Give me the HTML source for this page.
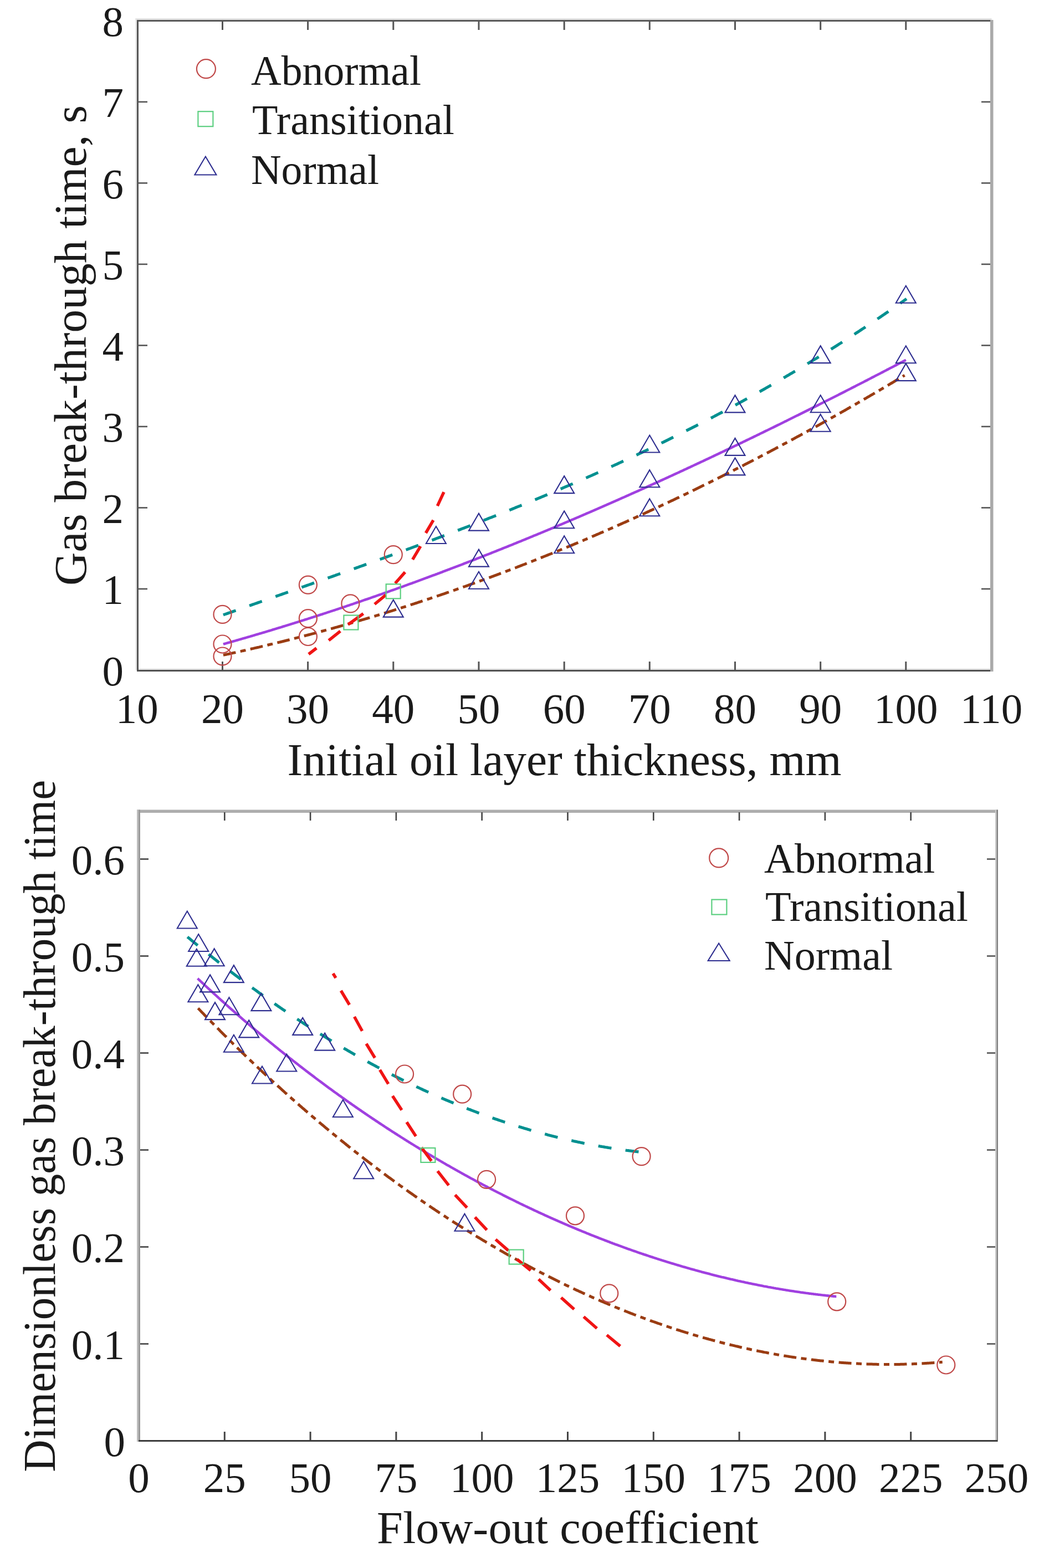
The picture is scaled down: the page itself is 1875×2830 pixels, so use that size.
<!DOCTYPE html>
<html><head><meta charset="utf-8"><title>Gas break-through time charts</title>
<style>
html,body{margin:0;padding:0;background:#fff;overflow:hidden;}
svg{display:block;}
text{font-family:'Liberation Serif', serif;fill:#1a1a1a;font-variant-ligatures:none;font-feature-settings:"liga" 0;}
</style></head><body>
<svg width="1875" height="2830" viewBox="0 0 1875 2830">
<rect width="1875" height="2830" fill="#fff"/>
<rect x="244.5" y="33" width="1545.0" height="3" fill="#e2e2e2"/>
<rect x="244.5" y="33" width="3" height="1176.4" fill="#e2e2e2"/>
<rect x="247" y="1206.5" width="1542.5" height="3" fill="#e2e2e2"/>
<rect x="247" y="36" width="1542.5" height="3" fill="#585858"/>
<rect x="247" y="36" width="3" height="1176" fill="#555"/>
<rect x="247" y="1209" width="1543" height="3" fill="#505050"/>
<rect x="1787" y="36" width="5.5" height="1176" fill="#aaaaaa"/>
<rect x="400.0" y="1194" width="3" height="15" fill="#555"/>
<rect x="400.0" y="39" width="3" height="15" fill="#555"/>
<rect x="554.1" y="1194" width="3" height="15" fill="#555"/>
<rect x="554.1" y="39" width="3" height="15" fill="#555"/>
<rect x="708.3" y="1194" width="3" height="15" fill="#555"/>
<rect x="708.3" y="39" width="3" height="15" fill="#555"/>
<rect x="862.5" y="1194" width="3" height="15" fill="#555"/>
<rect x="862.5" y="39" width="3" height="15" fill="#555"/>
<rect x="1016.7" y="1194" width="3" height="15" fill="#555"/>
<rect x="1016.7" y="39" width="3" height="15" fill="#555"/>
<rect x="1170.8" y="1194" width="3" height="15" fill="#555"/>
<rect x="1170.8" y="39" width="3" height="15" fill="#555"/>
<rect x="1325.0" y="1194" width="3" height="15" fill="#555"/>
<rect x="1325.0" y="39" width="3" height="15" fill="#555"/>
<rect x="1479.2" y="1194" width="3" height="15" fill="#555"/>
<rect x="1479.2" y="39" width="3" height="15" fill="#555"/>
<rect x="1633.3" y="1194" width="3" height="15" fill="#555"/>
<rect x="1633.3" y="39" width="3" height="15" fill="#555"/>
<rect x="250" y="1061.6" width="16" height="2.6" fill="#555"/>
<rect x="1771" y="1061.6" width="16" height="2.6" fill="#555"/>
<rect x="250" y="915.1" width="16" height="2.6" fill="#555"/>
<rect x="1771" y="915.1" width="16" height="2.6" fill="#555"/>
<rect x="250" y="768.6" width="16" height="2.6" fill="#555"/>
<rect x="1771" y="768.6" width="16" height="2.6" fill="#555"/>
<rect x="250" y="622.1" width="16" height="2.6" fill="#555"/>
<rect x="1771" y="622.1" width="16" height="2.6" fill="#555"/>
<rect x="250" y="475.6" width="16" height="2.6" fill="#555"/>
<rect x="1771" y="475.6" width="16" height="2.6" fill="#555"/>
<rect x="250" y="329.1" width="16" height="2.6" fill="#555"/>
<rect x="1771" y="329.1" width="16" height="2.6" fill="#555"/>
<rect x="250" y="182.6" width="16" height="2.6" fill="#555"/>
<rect x="1771" y="182.6" width="16" height="2.6" fill="#555"/>
<text x="247.3" y="1305" font-size="77" text-anchor="middle" >10</text>
<text x="401.5" y="1305" font-size="77" text-anchor="middle" >20</text>
<text x="555.6" y="1305" font-size="77" text-anchor="middle" >30</text>
<text x="709.8" y="1305" font-size="77" text-anchor="middle" >40</text>
<text x="864.0" y="1305" font-size="77" text-anchor="middle" >50</text>
<text x="1018.2" y="1305" font-size="77" text-anchor="middle" >60</text>
<text x="1172.3" y="1305" font-size="77" text-anchor="middle" >70</text>
<text x="1326.5" y="1305" font-size="77" text-anchor="middle" >80</text>
<text x="1480.7" y="1305" font-size="77" text-anchor="middle" >90</text>
<text x="1634.8" y="1305" font-size="77" text-anchor="middle" >100</text>
<text x="1789.0" y="1305" font-size="77" text-anchor="middle" >110</text>
<text x="223" y="1236.7" font-size="77" text-anchor="end" >0</text>
<text x="223" y="1090.2" font-size="77" text-anchor="end" >1</text>
<text x="223" y="943.7" font-size="77" text-anchor="end" >2</text>
<text x="223" y="797.2" font-size="77" text-anchor="end" >3</text>
<text x="223" y="650.7" font-size="77" text-anchor="end" >4</text>
<text x="223" y="504.2" font-size="77" text-anchor="end" >5</text>
<text x="223" y="357.7" font-size="77" text-anchor="end" >6</text>
<text x="223" y="211.2" font-size="77" text-anchor="end" >7</text>
<text x="223" y="64.7" font-size="77" text-anchor="end" >8</text>
<text x="1018.5" y="1399" font-size="83" text-anchor="middle" textLength="1000" lengthAdjust="spacingAndGlyphs">Initial oil layer thickness, mm</text>
<text transform="translate(155,623.6) rotate(-90)" x="0" y="0" font-size="83" text-anchor="middle" textLength="867" lengthAdjust="spacingAndGlyphs">Gas break-through time, s</text>
<circle cx="371.9" cy="124.2" r="17" fill="none" stroke="#c04848" stroke-width="2.2"/>
<rect x="357.4" y="201.2" width="27" height="27" fill="none" stroke="#5ccf80" stroke-width="2.2"/>
<path d="M370.9,282.5 L390.4,315.5 L351.4,315.5 Z" fill="none" stroke="#2e2e90" stroke-width="2.1" stroke-linejoin="miter"/>
<text x="453" y="153" font-size="77" text-anchor="start" textLength="307" lengthAdjust="spacingAndGlyphs">Abnormal</text>
<text x="455" y="242.4" font-size="77" text-anchor="start" textLength="365" lengthAdjust="spacingAndGlyphs">Transitional</text>
<text x="453" y="331.8" font-size="77" text-anchor="start" textLength="231" lengthAdjust="spacingAndGlyphs">Normal</text>
<path d="M402.9,1109.8 L404.9,1109.1 L406.9,1108.4 L408.9,1107.7 L410.9,1107.0 L412.9,1106.3 L414.9,1105.6 L416.9,1104.9 L418.9,1104.2 L420.9,1103.5 L422.9,1102.8 L424.9,1102.1 L426.9,1101.4 L428.9,1100.7 L430.9,1100.0 L432.9,1099.2 L434.9,1098.5 L436.9,1097.8 L438.9,1097.1 L440.9,1096.4 L442.9,1095.7 L444.9,1095.0 L446.9,1094.3 L448.9,1093.6 L450.9,1092.9 L452.9,1092.2 L454.9,1091.5 L456.9,1090.8 L458.9,1090.1 L460.9,1089.4 L462.9,1088.7 L464.9,1088.0 L466.9,1087.3 L468.9,1086.6 L470.9,1085.9 L472.9,1085.2 L474.9,1084.5 L476.9,1083.8 L478.9,1083.1 L480.9,1082.3 L482.9,1081.6 L484.9,1080.9 L486.9,1080.2 L488.9,1079.5 L490.9,1078.8 L492.9,1078.1 L494.9,1077.4 L496.9,1076.7 L498.9,1076.0 L500.9,1075.3 L502.9,1074.6 L504.9,1073.9 L506.9,1073.2 L508.9,1072.5 L510.9,1071.8 L512.9,1071.1 L514.9,1070.4 L516.9,1069.7 L518.9,1069.0 L520.9,1068.3 L522.9,1067.6 L524.9,1066.9 L526.9,1066.2 L528.9,1065.5 L530.9,1064.7 L532.9,1064.0 L534.9,1063.3 L536.9,1062.6 L538.9,1061.9 L540.9,1061.2 L542.9,1060.5 L544.9,1059.8 L546.9,1059.1 L548.9,1058.4 L550.9,1057.7 L552.9,1057.0 L554.9,1056.3 L556.9,1055.6 L558.9,1054.9 L560.9,1054.2 L562.9,1053.5 L564.9,1052.7 L566.9,1052.0 L568.9,1051.3 L570.9,1050.6 L572.9,1049.9 L574.9,1049.2 L576.9,1048.5 L578.9,1047.8 L580.9,1047.1 L582.9,1046.4 L584.9,1045.7 L586.9,1045.0 L588.9,1044.2 L590.9,1043.5 L592.9,1042.8 L594.9,1042.1 L596.9,1041.4 L598.9,1040.7 L600.9,1040.0 L602.9,1039.3 L604.9,1038.6 L606.9,1037.8 L608.9,1037.1 L610.9,1036.4 L612.9,1035.7 L614.9,1035.0 L616.9,1034.3 L618.9,1033.6 L620.9,1032.9 L622.9,1032.1 L624.9,1031.4 L626.9,1030.7 L628.9,1030.0 L630.9,1029.3 L632.9,1028.6 L634.9,1027.9 L636.9,1027.1 L638.9,1026.4 L640.9,1025.7 L642.9,1025.0 L644.9,1024.3 L646.9,1023.6 L648.9,1022.8 L650.9,1022.1 L652.9,1021.4 L654.9,1020.7 L656.9,1020.0 L658.9,1019.2 L660.9,1018.5 L662.9,1017.8 L664.9,1017.1 L666.9,1016.4 L668.9,1015.6 L670.9,1014.9 L672.9,1014.2 L674.9,1013.5 L676.9,1012.7 L678.9,1012.0 L680.9,1011.3 L682.9,1010.6 L684.9,1009.8 L686.9,1009.1 L688.9,1008.4 L690.9,1007.7 L692.9,1006.9 L694.9,1006.2 L696.9,1005.5 L698.9,1004.8 L700.9,1004.0 L702.9,1003.3 L704.9,1002.6 L706.9,1001.8 L708.9,1001.1 L710.9,1000.4 L712.9,999.6 L714.9,998.9 L716.9,998.2 L718.9,997.5 L720.9,996.7 L722.9,996.0 L724.9,995.2 L726.9,994.5 L728.9,993.8 L730.9,993.0 L732.9,992.3 L734.9,991.6 L736.9,990.8 L738.9,990.1 L740.9,989.4 L742.9,988.6 L744.9,987.9 L746.9,987.1 L748.9,986.4 L750.9,985.7 L752.9,984.9 L754.9,984.2 L756.9,983.4 L758.9,982.7 L760.9,981.9 L762.9,981.2 L764.9,980.4 L766.9,979.7 L768.9,979.0 L770.9,978.2 L772.9,977.5 L774.9,976.7 L776.9,976.0 L778.9,975.2 L780.9,974.5 L782.9,973.7 L784.9,973.0 L786.9,972.2 L788.9,971.4 L790.9,970.7 L792.9,969.9 L794.9,969.2 L796.9,968.4 L798.9,967.7 L800.9,966.9 L802.9,966.2 L804.9,965.4 L806.9,964.6 L808.9,963.9 L810.9,963.1 L812.9,962.4 L814.9,961.6 L816.9,960.8 L818.9,960.1 L820.9,959.3 L822.9,958.5 L824.9,957.8 L826.9,957.0 L828.9,956.2 L830.9,955.5 L832.9,954.7 L834.9,953.9 L836.9,953.2 L838.9,952.4 L840.9,951.6 L842.9,950.9 L844.9,950.1 L846.9,949.3 L848.9,948.5 L850.9,947.8 L852.9,947.0 L854.9,946.2 L856.9,945.4 L858.9,944.6 L860.9,943.9 L862.9,943.1 L864.9,942.3 L866.9,941.5 L868.9,940.7 L870.9,940.0 L872.9,939.2 L874.9,938.4 L876.9,937.6 L878.9,936.8 L880.9,936.0 L882.9,935.2 L884.9,934.4 L886.9,933.7 L888.9,932.9 L890.9,932.1 L892.9,931.3 L894.9,930.5 L896.9,929.7 L898.9,928.9 L900.9,928.1 L902.9,927.3 L904.9,926.5 L906.9,925.7 L908.9,924.9 L910.9,924.1 L912.9,923.3 L914.9,922.5 L916.9,921.7 L918.9,920.9 L920.9,920.1 L922.9,919.3 L924.9,918.5 L926.9,917.7 L928.9,916.9 L930.9,916.0 L932.9,915.2 L934.9,914.4 L936.9,913.6 L938.9,912.8 L940.9,912.0 L942.9,911.2 L944.9,910.3 L946.9,909.5 L948.9,908.7 L950.9,907.9 L952.9,907.1 L954.9,906.2 L956.9,905.4 L958.9,904.6 L960.9,903.8 L962.9,902.9 L964.9,902.1 L966.9,901.3 L968.9,900.5 L970.9,899.6 L972.9,898.8 L974.9,898.0 L976.9,897.1 L978.9,896.3 L980.9,895.5 L982.9,894.6 L984.9,893.8 L986.9,893.0 L988.9,892.1 L990.9,891.3 L992.9,890.4 L994.9,889.6 L996.9,888.7 L998.9,887.9 L1000.9,887.1 L1002.9,886.2 L1004.9,885.4 L1006.9,884.5 L1008.9,883.7 L1010.9,882.8 L1012.9,882.0 L1014.9,881.1 L1016.9,880.2 L1018.9,879.4 L1020.9,878.5 L1022.9,877.7 L1024.9,876.8 L1026.9,875.9 L1028.9,875.1 L1030.9,874.2 L1032.9,873.4 L1034.9,872.5 L1036.9,871.6 L1038.9,870.8 L1040.9,869.9 L1042.9,869.0 L1044.9,868.1 L1046.9,867.3 L1048.9,866.4 L1050.9,865.5 L1052.9,864.6 L1054.9,863.8 L1056.9,862.9 L1058.9,862.0 L1060.9,861.1 L1062.9,860.2 L1064.9,859.4 L1066.9,858.5 L1068.9,857.6 L1070.9,856.7 L1072.9,855.8 L1074.9,854.9 L1076.9,854.0 L1078.9,853.1 L1080.9,852.2 L1082.9,851.3 L1084.9,850.5 L1086.9,849.6 L1088.9,848.7 L1090.9,847.8 L1092.9,846.9 L1094.9,845.9 L1096.9,845.0 L1098.9,844.1 L1100.9,843.2 L1102.9,842.3 L1104.9,841.4 L1106.9,840.5 L1108.9,839.6 L1110.9,838.7 L1112.9,837.8 L1114.9,836.8 L1116.9,835.9 L1118.9,835.0 L1120.9,834.1 L1122.9,833.2 L1124.9,832.2 L1126.9,831.3 L1128.9,830.4 L1130.9,829.5 L1132.9,828.5 L1134.9,827.6 L1136.9,826.7 L1138.9,825.7 L1140.9,824.8 L1142.9,823.9 L1144.9,822.9 L1146.9,822.0 L1148.9,821.1 L1150.9,820.1 L1152.9,819.2 L1154.9,818.2 L1156.9,817.3 L1158.9,816.3 L1160.9,815.4 L1162.9,814.4 L1164.9,813.5 L1166.9,812.5 L1168.9,811.6 L1170.9,810.6 L1172.9,809.7 L1174.9,808.7 L1176.9,807.7 L1178.9,806.8 L1180.9,805.8 L1182.9,804.9 L1184.9,803.9 L1186.9,802.9 L1188.9,802.0 L1190.9,801.0 L1192.9,800.0 L1194.9,799.0 L1196.9,798.1 L1198.9,797.1 L1200.9,796.1 L1202.9,795.1 L1204.9,794.1 L1206.9,793.2 L1208.9,792.2 L1210.9,791.2 L1212.9,790.2 L1214.9,789.2 L1216.9,788.2 L1218.9,787.2 L1220.9,786.2 L1222.9,785.2 L1224.9,784.2 L1226.9,783.2 L1228.9,782.2 L1230.9,781.2 L1232.9,780.2 L1234.9,779.2 L1236.9,778.2 L1238.9,777.2 L1240.9,776.2 L1242.9,775.2 L1244.9,774.2 L1246.9,773.2 L1248.9,772.1 L1250.9,771.1 L1252.9,770.1 L1254.9,769.1 L1256.9,768.1 L1258.9,767.0 L1260.9,766.0 L1262.9,765.0 L1264.9,764.0 L1266.9,762.9 L1268.9,761.9 L1270.9,760.9 L1272.9,759.8 L1274.9,758.8 L1276.9,757.7 L1278.9,756.7 L1280.9,755.7 L1282.9,754.6 L1284.9,753.6 L1286.9,752.5 L1288.9,751.5 L1290.9,750.4 L1292.9,749.4 L1294.9,748.3 L1296.9,747.2 L1298.9,746.2 L1300.9,745.1 L1302.9,744.1 L1304.9,743.0 L1306.9,741.9 L1308.9,740.9 L1310.9,739.8 L1312.9,738.7 L1314.9,737.7 L1316.9,736.6 L1318.9,735.5 L1320.9,734.4 L1322.9,733.3 L1324.9,732.3 L1326.9,731.2 L1328.9,730.1 L1330.9,729.0 L1332.9,727.9 L1334.9,726.8 L1336.9,725.7 L1338.9,724.6 L1340.9,723.5 L1342.9,722.4 L1344.9,721.3 L1346.9,720.2 L1348.9,719.1 L1350.9,718.0 L1352.9,716.9 L1354.9,715.8 L1356.9,714.7 L1358.9,713.6 L1360.9,712.5 L1362.9,711.4 L1364.9,710.2 L1366.9,709.1 L1368.9,708.0 L1370.9,706.9 L1372.9,705.7 L1374.9,704.6 L1376.9,703.5 L1378.9,702.4 L1380.9,701.2 L1382.9,700.1 L1384.9,698.9 L1386.9,697.8 L1388.9,696.7 L1390.9,695.5 L1392.9,694.4 L1394.9,693.2 L1396.9,692.1 L1398.9,690.9 L1400.9,689.8 L1402.9,688.6 L1404.9,687.5 L1406.9,686.3 L1408.9,685.1 L1410.9,684.0 L1412.9,682.8 L1414.9,681.6 L1416.9,680.5 L1418.9,679.3 L1420.9,678.1 L1422.9,677.0 L1424.9,675.8 L1426.9,674.6 L1428.9,673.4 L1430.9,672.2 L1432.9,671.0 L1434.9,669.9 L1436.9,668.7 L1438.9,667.5 L1440.9,666.3 L1442.9,665.1 L1444.9,663.9 L1446.9,662.7 L1448.9,661.5 L1450.9,660.3 L1452.9,659.1 L1454.9,657.9 L1456.9,656.7 L1458.9,655.4 L1460.9,654.2 L1462.9,653.0 L1464.9,651.8 L1466.9,650.6 L1468.9,649.4 L1470.9,648.1 L1472.9,646.9 L1474.9,645.7 L1476.9,644.4 L1478.9,643.2 L1480.9,642.0 L1482.9,640.7 L1484.9,639.5 L1486.9,638.3 L1488.9,637.0 L1490.9,635.8 L1492.9,634.5 L1494.9,633.3 L1496.9,632.0 L1498.9,630.8 L1500.9,629.5 L1502.9,628.2 L1504.9,627.0 L1506.9,625.7 L1508.9,624.5 L1510.9,623.2 L1512.9,621.9 L1514.9,620.6 L1516.9,619.4 L1518.9,618.1 L1520.9,616.8 L1522.9,615.5 L1524.9,614.2 L1526.9,613.0 L1528.9,611.7 L1530.9,610.4 L1532.9,609.1 L1534.9,607.8 L1536.9,606.5 L1538.9,605.2 L1540.9,603.9 L1542.9,602.6 L1544.9,601.3 L1546.9,600.0 L1548.9,598.7 L1550.9,597.4 L1552.9,596.0 L1554.9,594.7 L1556.9,593.4 L1558.9,592.1 L1560.9,590.8 L1562.9,589.4 L1564.9,588.1 L1566.9,586.8 L1568.9,585.4 L1570.9,584.1 L1572.9,582.8 L1574.9,581.4 L1576.9,580.1 L1578.9,578.7 L1580.9,577.4 L1582.9,576.0 L1584.9,574.7 L1586.9,573.3 L1588.9,572.0 L1590.9,570.6 L1592.9,569.2 L1594.9,567.9 L1596.9,566.5 L1598.9,565.1 L1600.9,563.8 L1602.9,562.4 L1604.9,561.0 L1606.9,559.6 L1608.9,558.3 L1610.9,556.9 L1612.9,555.5 L1614.9,554.1 L1616.9,552.7 L1618.9,551.3 L1620.9,549.9 L1622.9,548.5 L1624.9,547.1 L1626.9,545.7 L1628.9,544.3 L1630.9,542.9 L1632.9,541.5 L1634.9,540.1 L1636.0,539.3" fill="none" stroke="#009090" stroke-width="5.2" stroke-dasharray="24 26" stroke-dashoffset="0"/>
<path d="M402.9,1162.6 L404.9,1162.0 L406.9,1161.5 L408.9,1160.9 L410.9,1160.3 L412.9,1159.8 L414.9,1159.2 L416.9,1158.6 L418.9,1158.1 L420.9,1157.5 L422.9,1156.9 L424.9,1156.4 L426.9,1155.8 L428.9,1155.2 L430.9,1154.6 L432.9,1154.1 L434.9,1153.5 L436.9,1152.9 L438.9,1152.3 L440.9,1151.8 L442.9,1151.2 L444.9,1150.6 L446.9,1150.0 L448.9,1149.4 L450.9,1148.9 L452.9,1148.3 L454.9,1147.7 L456.9,1147.1 L458.9,1146.5 L460.9,1145.9 L462.9,1145.3 L464.9,1144.7 L466.9,1144.1 L468.9,1143.5 L470.9,1143.0 L472.9,1142.4 L474.9,1141.8 L476.9,1141.2 L478.9,1140.6 L480.9,1140.0 L482.9,1139.4 L484.9,1138.8 L486.9,1138.2 L488.9,1137.6 L490.9,1137.0 L492.9,1136.3 L494.9,1135.7 L496.9,1135.1 L498.9,1134.5 L500.9,1133.9 L502.9,1133.3 L504.9,1132.7 L506.9,1132.1 L508.9,1131.5 L510.9,1130.8 L512.9,1130.2 L514.9,1129.6 L516.9,1129.0 L518.9,1128.4 L520.9,1127.8 L522.9,1127.1 L524.9,1126.5 L526.9,1125.9 L528.9,1125.3 L530.9,1124.6 L532.9,1124.0 L534.9,1123.4 L536.9,1122.8 L538.9,1122.1 L540.9,1121.5 L542.9,1120.9 L544.9,1120.2 L546.9,1119.6 L548.9,1119.0 L550.9,1118.3 L552.9,1117.7 L554.9,1117.1 L556.9,1116.4 L558.9,1115.8 L560.9,1115.1 L562.9,1114.5 L564.9,1113.9 L566.9,1113.2 L568.9,1112.6 L570.9,1111.9 L572.9,1111.3 L574.9,1110.6 L576.9,1110.0 L578.9,1109.3 L580.9,1108.7 L582.9,1108.0 L584.9,1107.4 L586.9,1106.7 L588.9,1106.1 L590.9,1105.4 L592.9,1104.7 L594.9,1104.1 L596.9,1103.4 L598.9,1102.8 L600.9,1102.1 L602.9,1101.5 L604.9,1100.8 L606.9,1100.1 L608.9,1099.5 L610.9,1098.8 L612.9,1098.1 L614.9,1097.5 L616.9,1096.8 L618.9,1096.1 L620.9,1095.5 L622.9,1094.8 L624.9,1094.1 L626.9,1093.4 L628.9,1092.8 L630.9,1092.1 L632.9,1091.4 L634.9,1090.7 L636.9,1090.1 L638.9,1089.4 L640.9,1088.7 L642.9,1088.0 L644.9,1087.3 L646.9,1086.7 L648.9,1086.0 L650.9,1085.3 L652.9,1084.6 L654.9,1083.9 L656.9,1083.2 L658.9,1082.5 L660.9,1081.8 L662.9,1081.2 L664.9,1080.5 L666.9,1079.8 L668.9,1079.1 L670.9,1078.4 L672.9,1077.7 L674.9,1077.0 L676.9,1076.3 L678.9,1075.6 L680.9,1074.9 L682.9,1074.2 L684.9,1073.5 L686.9,1072.8 L688.9,1072.1 L690.9,1071.4 L692.9,1070.7 L694.9,1070.0 L696.9,1069.3 L698.9,1068.6 L700.9,1067.9 L702.9,1067.1 L704.9,1066.4 L706.9,1065.7 L708.9,1065.0 L710.9,1064.3 L712.9,1063.6 L714.9,1062.9 L716.9,1062.1 L718.9,1061.4 L720.9,1060.7 L722.9,1060.0 L724.9,1059.3 L726.9,1058.6 L728.9,1057.8 L730.9,1057.1 L732.9,1056.4 L734.9,1055.7 L736.9,1054.9 L738.9,1054.2 L740.9,1053.5 L742.9,1052.8 L744.9,1052.0 L746.9,1051.3 L748.9,1050.6 L750.9,1049.8 L752.9,1049.1 L754.9,1048.4 L756.9,1047.6 L758.9,1046.9 L760.9,1046.2 L762.9,1045.4 L764.9,1044.7 L766.9,1043.9 L768.9,1043.2 L770.9,1042.5 L772.9,1041.7 L774.9,1041.0 L776.9,1040.2 L778.9,1039.5 L780.9,1038.7 L782.9,1038.0 L784.9,1037.3 L786.9,1036.5 L788.9,1035.8 L790.9,1035.0 L792.9,1034.3 L794.9,1033.5 L796.9,1032.8 L798.9,1032.0 L800.9,1031.2 L802.9,1030.5 L804.9,1029.7 L806.9,1029.0 L808.9,1028.2 L810.9,1027.5 L812.9,1026.7 L814.9,1025.9 L816.9,1025.2 L818.9,1024.4 L820.9,1023.6 L822.9,1022.9 L824.9,1022.1 L826.9,1021.4 L828.9,1020.6 L830.9,1019.8 L832.9,1019.1 L834.9,1018.3 L836.9,1017.5 L838.9,1016.7 L840.9,1016.0 L842.9,1015.2 L844.9,1014.4 L846.9,1013.6 L848.9,1012.9 L850.9,1012.1 L852.9,1011.3 L854.9,1010.5 L856.9,1009.8 L858.9,1009.0 L860.9,1008.2 L862.9,1007.4 L864.9,1006.6 L866.9,1005.8 L868.9,1005.1 L870.9,1004.3 L872.9,1003.5 L874.9,1002.7 L876.9,1001.9 L878.9,1001.1 L880.9,1000.3 L882.9,999.6 L884.9,998.8 L886.9,998.0 L888.9,997.2 L890.9,996.4 L892.9,995.6 L894.9,994.8 L896.9,994.0 L898.9,993.2 L900.9,992.4 L902.9,991.6 L904.9,990.8 L906.9,990.0 L908.9,989.2 L910.9,988.4 L912.9,987.6 L914.9,986.8 L916.9,986.0 L918.9,985.2 L920.9,984.4 L922.9,983.6 L924.9,982.8 L926.9,981.9 L928.9,981.1 L930.9,980.3 L932.9,979.5 L934.9,978.7 L936.9,977.9 L938.9,977.1 L940.9,976.3 L942.9,975.4 L944.9,974.6 L946.9,973.8 L948.9,973.0 L950.9,972.2 L952.9,971.4 L954.9,970.5 L956.9,969.7 L958.9,968.9 L960.9,968.1 L962.9,967.2 L964.9,966.4 L966.9,965.6 L968.9,964.8 L970.9,963.9 L972.9,963.1 L974.9,962.3 L976.9,961.5 L978.9,960.6 L980.9,959.8 L982.9,959.0 L984.9,958.1 L986.9,957.3 L988.9,956.5 L990.9,955.6 L992.9,954.8 L994.9,953.9 L996.9,953.1 L998.9,952.3 L1000.9,951.4 L1002.9,950.6 L1004.9,949.8 L1006.9,948.9 L1008.9,948.1 L1010.9,947.2 L1012.9,946.4 L1014.9,945.5 L1016.9,944.7 L1018.9,943.8 L1020.9,943.0 L1022.9,942.1 L1024.9,941.3 L1026.9,940.4 L1028.9,939.6 L1030.9,938.7 L1032.9,937.9 L1034.9,937.0 L1036.9,936.2 L1038.9,935.3 L1040.9,934.5 L1042.9,933.6 L1044.9,932.8 L1046.9,931.9 L1048.9,931.0 L1050.9,930.2 L1052.9,929.3 L1054.9,928.5 L1056.9,927.6 L1058.9,926.7 L1060.9,925.9 L1062.9,925.0 L1064.9,924.2 L1066.9,923.3 L1068.9,922.4 L1070.9,921.6 L1072.9,920.7 L1074.9,919.8 L1076.9,919.0 L1078.9,918.1 L1080.9,917.2 L1082.9,916.3 L1084.9,915.5 L1086.9,914.6 L1088.9,913.7 L1090.9,912.8 L1092.9,912.0 L1094.9,911.1 L1096.9,910.2 L1098.9,909.3 L1100.9,908.5 L1102.9,907.6 L1104.9,906.7 L1106.9,905.8 L1108.9,904.9 L1110.9,904.1 L1112.9,903.2 L1114.9,902.3 L1116.9,901.4 L1118.9,900.5 L1120.9,899.6 L1122.9,898.7 L1124.9,897.9 L1126.9,897.0 L1128.9,896.1 L1130.9,895.2 L1132.9,894.3 L1134.9,893.4 L1136.9,892.5 L1138.9,891.6 L1140.9,890.7 L1142.9,889.8 L1144.9,888.9 L1146.9,888.0 L1148.9,887.2 L1150.9,886.3 L1152.9,885.4 L1154.9,884.5 L1156.9,883.6 L1158.9,882.7 L1160.9,881.8 L1162.9,880.9 L1164.9,880.0 L1166.9,879.1 L1168.9,878.1 L1170.9,877.2 L1172.9,876.3 L1174.9,875.4 L1176.9,874.5 L1178.9,873.6 L1180.9,872.7 L1182.9,871.8 L1184.9,870.9 L1186.9,870.0 L1188.9,869.1 L1190.9,868.2 L1192.9,867.2 L1194.9,866.3 L1196.9,865.4 L1198.9,864.5 L1200.9,863.6 L1202.9,862.7 L1204.9,861.8 L1206.9,860.8 L1208.9,859.9 L1210.9,859.0 L1212.9,858.1 L1214.9,857.2 L1216.9,856.2 L1218.9,855.3 L1220.9,854.4 L1222.9,853.5 L1224.9,852.6 L1226.9,851.6 L1228.9,850.7 L1230.9,849.8 L1232.9,848.9 L1234.9,847.9 L1236.9,847.0 L1238.9,846.1 L1240.9,845.1 L1242.9,844.2 L1244.9,843.3 L1246.9,842.3 L1248.9,841.4 L1250.9,840.5 L1252.9,839.5 L1254.9,838.6 L1256.9,837.7 L1258.9,836.7 L1260.9,835.8 L1262.9,834.9 L1264.9,833.9 L1266.9,833.0 L1268.9,832.1 L1270.9,831.1 L1272.9,830.2 L1274.9,829.2 L1276.9,828.3 L1278.9,827.4 L1280.9,826.4 L1282.9,825.5 L1284.9,824.5 L1286.9,823.6 L1288.9,822.6 L1290.9,821.7 L1292.9,820.7 L1294.9,819.8 L1296.9,818.8 L1298.9,817.9 L1300.9,816.9 L1302.9,816.0 L1304.9,815.0 L1306.9,814.1 L1308.9,813.1 L1310.9,812.2 L1312.9,811.2 L1314.9,810.3 L1316.9,809.3 L1318.9,808.4 L1320.9,807.4 L1322.9,806.4 L1324.9,805.5 L1326.9,804.5 L1328.9,803.6 L1330.9,802.6 L1332.9,801.7 L1334.9,800.7 L1336.9,799.7 L1338.9,798.8 L1340.9,797.8 L1342.9,796.8 L1344.9,795.9 L1346.9,794.9 L1348.9,793.9 L1350.9,793.0 L1352.9,792.0 L1354.9,791.0 L1356.9,790.1 L1358.9,789.1 L1360.9,788.1 L1362.9,787.2 L1364.9,786.2 L1366.9,785.2 L1368.9,784.3 L1370.9,783.3 L1372.9,782.3 L1374.9,781.3 L1376.9,780.4 L1378.9,779.4 L1380.9,778.4 L1382.9,777.4 L1384.9,776.5 L1386.9,775.5 L1388.9,774.5 L1390.9,773.5 L1392.9,772.5 L1394.9,771.6 L1396.9,770.6 L1398.9,769.6 L1400.9,768.6 L1402.9,767.6 L1404.9,766.7 L1406.9,765.7 L1408.9,764.7 L1410.9,763.7 L1412.9,762.7 L1414.9,761.7 L1416.9,760.7 L1418.9,759.8 L1420.9,758.8 L1422.9,757.8 L1424.9,756.8 L1426.9,755.8 L1428.9,754.8 L1430.9,753.8 L1432.9,752.8 L1434.9,751.8 L1436.9,750.8 L1438.9,749.8 L1440.9,748.9 L1442.9,747.9 L1444.9,746.9 L1446.9,745.9 L1448.9,744.9 L1450.9,743.9 L1452.9,742.9 L1454.9,741.9 L1456.9,740.9 L1458.9,739.9 L1460.9,738.9 L1462.9,737.9 L1464.9,736.9 L1466.9,735.9 L1468.9,734.9 L1470.9,733.9 L1472.9,732.9 L1474.9,731.9 L1476.9,730.9 L1478.9,729.8 L1480.9,728.8 L1482.9,727.8 L1484.9,726.8 L1486.9,725.8 L1488.9,724.8 L1490.9,723.8 L1492.9,722.8 L1494.9,721.8 L1496.9,720.8 L1498.9,719.8 L1500.9,718.7 L1502.9,717.7 L1504.9,716.7 L1506.9,715.7 L1508.9,714.7 L1510.9,713.7 L1512.9,712.7 L1514.9,711.6 L1516.9,710.6 L1518.9,709.6 L1520.9,708.6 L1522.9,707.6 L1524.9,706.6 L1526.9,705.5 L1528.9,704.5 L1530.9,703.5 L1532.9,702.5 L1534.9,701.5 L1536.9,700.4 L1538.9,699.4 L1540.9,698.4 L1542.9,697.4 L1544.9,696.3 L1546.9,695.3 L1548.9,694.3 L1550.9,693.3 L1552.9,692.2 L1554.9,691.2 L1556.9,690.2 L1558.9,689.2 L1560.9,688.1 L1562.9,687.1 L1564.9,686.1 L1566.9,685.0 L1568.9,684.0 L1570.9,683.0 L1572.9,681.9 L1574.9,680.9 L1576.9,679.9 L1578.9,678.8 L1580.9,677.8 L1582.9,676.8 L1584.9,675.7 L1586.9,674.7 L1588.9,673.7 L1590.9,672.6 L1592.9,671.6 L1594.9,670.5 L1596.9,669.5 L1598.9,668.5 L1600.9,667.4 L1602.9,666.4 L1604.9,665.3 L1606.9,664.3 L1608.9,663.3 L1610.9,662.2 L1612.9,661.2 L1614.9,660.1 L1616.9,659.1 L1618.9,658.0 L1620.9,657.0 L1622.9,656.0 L1624.9,654.9 L1626.9,653.9 L1628.9,652.8 L1630.9,651.8 L1632.9,650.7 L1634.9,649.7" fill="none" stroke="#a040e0" stroke-width="4.6"/>
<path d="M402.9,1182.3 L404.9,1181.9 L406.9,1181.5 L408.9,1181.0 L410.9,1180.6 L412.9,1180.2 L414.9,1179.7 L416.9,1179.3 L418.9,1178.9 L420.9,1178.4 L422.9,1178.0 L424.9,1177.6 L426.9,1177.1 L428.9,1176.7 L430.9,1176.2 L432.9,1175.8 L434.9,1175.4 L436.9,1174.9 L438.9,1174.5 L440.9,1174.0 L442.9,1173.6 L444.9,1173.1 L446.9,1172.7 L448.9,1172.2 L450.9,1171.7 L452.9,1171.3 L454.9,1170.8 L456.9,1170.4 L458.9,1169.9 L460.9,1169.4 L462.9,1169.0 L464.9,1168.5 L466.9,1168.1 L468.9,1167.6 L470.9,1167.1 L472.9,1166.6 L474.9,1166.2 L476.9,1165.7 L478.9,1165.2 L480.9,1164.8 L482.9,1164.3 L484.9,1163.8 L486.9,1163.3 L488.9,1162.8 L490.9,1162.4 L492.9,1161.9 L494.9,1161.4 L496.9,1160.9 L498.9,1160.4 L500.9,1159.9 L502.9,1159.4 L504.9,1159.0 L506.9,1158.5 L508.9,1158.0 L510.9,1157.5 L512.9,1157.0 L514.9,1156.5 L516.9,1156.0 L518.9,1155.5 L520.9,1155.0 L522.9,1154.5 L524.9,1154.0 L526.9,1153.5 L528.9,1153.0 L530.9,1152.4 L532.9,1151.9 L534.9,1151.4 L536.9,1150.9 L538.9,1150.4 L540.9,1149.9 L542.9,1149.4 L544.9,1148.8 L546.9,1148.3 L548.9,1147.8 L550.9,1147.3 L552.9,1146.8 L554.9,1146.2 L556.9,1145.7 L558.9,1145.2 L560.9,1144.7 L562.9,1144.1 L564.9,1143.6 L566.9,1143.1 L568.9,1142.5 L570.9,1142.0 L572.9,1141.5 L574.9,1140.9 L576.9,1140.4 L578.9,1139.8 L580.9,1139.3 L582.9,1138.8 L584.9,1138.2 L586.9,1137.7 L588.9,1137.1 L590.9,1136.6 L592.9,1136.0 L594.9,1135.5 L596.9,1134.9 L598.9,1134.4 L600.9,1133.8 L602.9,1133.3 L604.9,1132.7 L606.9,1132.1 L608.9,1131.6 L610.9,1131.0 L612.9,1130.5 L614.9,1129.9 L616.9,1129.3 L618.9,1128.8 L620.9,1128.2 L622.9,1127.6 L624.9,1127.1 L626.9,1126.5 L628.9,1125.9 L630.9,1125.3 L632.9,1124.8 L634.9,1124.2 L636.9,1123.6 L638.9,1123.0 L640.9,1122.5 L642.9,1121.9 L644.9,1121.3 L646.9,1120.7 L648.9,1120.1 L650.9,1119.5 L652.9,1118.9 L654.9,1118.3 L656.9,1117.8 L658.9,1117.2 L660.9,1116.6 L662.9,1116.0 L664.9,1115.4 L666.9,1114.8 L668.9,1114.2 L670.9,1113.6 L672.9,1113.0 L674.9,1112.4 L676.9,1111.8 L678.9,1111.2 L680.9,1110.6 L682.9,1110.0 L684.9,1109.3 L686.9,1108.7 L688.9,1108.1 L690.9,1107.5 L692.9,1106.9 L694.9,1106.3 L696.9,1105.7 L698.9,1105.0 L700.9,1104.4 L702.9,1103.8 L704.9,1103.2 L706.9,1102.6 L708.9,1101.9 L710.9,1101.3 L712.9,1100.7 L714.9,1100.0 L716.9,1099.4 L718.9,1098.8 L720.9,1098.1 L722.9,1097.5 L724.9,1096.9 L726.9,1096.2 L728.9,1095.6 L730.9,1095.0 L732.9,1094.3 L734.9,1093.7 L736.9,1093.0 L738.9,1092.4 L740.9,1091.7 L742.9,1091.1 L744.9,1090.4 L746.9,1089.8 L748.9,1089.1 L750.9,1088.5 L752.9,1087.8 L754.9,1087.2 L756.9,1086.5 L758.9,1085.9 L760.9,1085.2 L762.9,1084.5 L764.9,1083.9 L766.9,1083.2 L768.9,1082.6 L770.9,1081.9 L772.9,1081.2 L774.9,1080.6 L776.9,1079.9 L778.9,1079.2 L780.9,1078.5 L782.9,1077.9 L784.9,1077.2 L786.9,1076.5 L788.9,1075.8 L790.9,1075.2 L792.9,1074.5 L794.9,1073.8 L796.9,1073.1 L798.9,1072.4 L800.9,1071.8 L802.9,1071.1 L804.9,1070.4 L806.9,1069.7 L808.9,1069.0 L810.9,1068.3 L812.9,1067.6 L814.9,1066.9 L816.9,1066.2 L818.9,1065.5 L820.9,1064.8 L822.9,1064.1 L824.9,1063.4 L826.9,1062.7 L828.9,1062.0 L830.9,1061.3 L832.9,1060.6 L834.9,1059.9 L836.9,1059.2 L838.9,1058.5 L840.9,1057.8 L842.9,1057.1 L844.9,1056.4 L846.9,1055.6 L848.9,1054.9 L850.9,1054.2 L852.9,1053.5 L854.9,1052.8 L856.9,1052.0 L858.9,1051.3 L860.9,1050.6 L862.9,1049.9 L864.9,1049.2 L866.9,1048.4 L868.9,1047.7 L870.9,1047.0 L872.9,1046.2 L874.9,1045.5 L876.9,1044.8 L878.9,1044.0 L880.9,1043.3 L882.9,1042.6 L884.9,1041.8 L886.9,1041.1 L888.9,1040.3 L890.9,1039.6 L892.9,1038.8 L894.9,1038.1 L896.9,1037.4 L898.9,1036.6 L900.9,1035.9 L902.9,1035.1 L904.9,1034.4 L906.9,1033.6 L908.9,1032.8 L910.9,1032.1 L912.9,1031.3 L914.9,1030.6 L916.9,1029.8 L918.9,1029.1 L920.9,1028.3 L922.9,1027.5 L924.9,1026.8 L926.9,1026.0 L928.9,1025.2 L930.9,1024.5 L932.9,1023.7 L934.9,1022.9 L936.9,1022.1 L938.9,1021.4 L940.9,1020.6 L942.9,1019.8 L944.9,1019.0 L946.9,1018.3 L948.9,1017.5 L950.9,1016.7 L952.9,1015.9 L954.9,1015.1 L956.9,1014.4 L958.9,1013.6 L960.9,1012.8 L962.9,1012.0 L964.9,1011.2 L966.9,1010.4 L968.9,1009.6 L970.9,1008.8 L972.9,1008.0 L974.9,1007.2 L976.9,1006.4 L978.9,1005.6 L980.9,1004.8 L982.9,1004.0 L984.9,1003.2 L986.9,1002.4 L988.9,1001.6 L990.9,1000.8 L992.9,1000.0 L994.9,999.2 L996.9,998.4 L998.9,997.6 L1000.9,996.8 L1002.9,995.9 L1004.9,995.1 L1006.9,994.3 L1008.9,993.5 L1010.9,992.7 L1012.9,991.8 L1014.9,991.0 L1016.9,990.2 L1018.9,989.4 L1020.9,988.5 L1022.9,987.7 L1024.9,986.9 L1026.9,986.1 L1028.9,985.2 L1030.9,984.4 L1032.9,983.6 L1034.9,982.7 L1036.9,981.9 L1038.9,981.1 L1040.9,980.2 L1042.9,979.4 L1044.9,978.5 L1046.9,977.7 L1048.9,976.9 L1050.9,976.0 L1052.9,975.2 L1054.9,974.3 L1056.9,973.5 L1058.9,972.6 L1060.9,971.8 L1062.9,970.9 L1064.9,970.1 L1066.9,969.2 L1068.9,968.3 L1070.9,967.5 L1072.9,966.6 L1074.9,965.8 L1076.9,964.9 L1078.9,964.0 L1080.9,963.2 L1082.9,962.3 L1084.9,961.4 L1086.9,960.6 L1088.9,959.7 L1090.9,958.8 L1092.9,958.0 L1094.9,957.1 L1096.9,956.2 L1098.9,955.3 L1100.9,954.5 L1102.9,953.6 L1104.9,952.7 L1106.9,951.8 L1108.9,950.9 L1110.9,950.1 L1112.9,949.2 L1114.9,948.3 L1116.9,947.4 L1118.9,946.5 L1120.9,945.6 L1122.9,944.7 L1124.9,943.8 L1126.9,943.0 L1128.9,942.1 L1130.9,941.2 L1132.9,940.3 L1134.9,939.4 L1136.9,938.5 L1138.9,937.6 L1140.9,936.7 L1142.9,935.8 L1144.9,934.9 L1146.9,934.0 L1148.9,933.0 L1150.9,932.1 L1152.9,931.2 L1154.9,930.3 L1156.9,929.4 L1158.9,928.5 L1160.9,927.6 L1162.9,926.7 L1164.9,925.7 L1166.9,924.8 L1168.9,923.9 L1170.9,923.0 L1172.9,922.1 L1174.9,921.1 L1176.9,920.2 L1178.9,919.3 L1180.9,918.4 L1182.9,917.4 L1184.9,916.5 L1186.9,915.6 L1188.9,914.6 L1190.9,913.7 L1192.9,912.8 L1194.9,911.8 L1196.9,910.9 L1198.9,910.0 L1200.9,909.0 L1202.9,908.1 L1204.9,907.1 L1206.9,906.2 L1208.9,905.3 L1210.9,904.3 L1212.9,903.4 L1214.9,902.4 L1216.9,901.5 L1218.9,900.5 L1220.9,899.6 L1222.9,898.6 L1224.9,897.7 L1226.9,896.7 L1228.9,895.7 L1230.9,894.8 L1232.9,893.8 L1234.9,892.9 L1236.9,891.9 L1238.9,890.9 L1240.9,890.0 L1242.9,889.0 L1244.9,888.0 L1246.9,887.1 L1248.9,886.1 L1250.9,885.1 L1252.9,884.2 L1254.9,883.2 L1256.9,882.2 L1258.9,881.2 L1260.9,880.3 L1262.9,879.3 L1264.9,878.3 L1266.9,877.3 L1268.9,876.3 L1270.9,875.4 L1272.9,874.4 L1274.9,873.4 L1276.9,872.4 L1278.9,871.4 L1280.9,870.4 L1282.9,869.4 L1284.9,868.4 L1286.9,867.4 L1288.9,866.4 L1290.9,865.5 L1292.9,864.5 L1294.9,863.5 L1296.9,862.5 L1298.9,861.5 L1300.9,860.5 L1302.9,859.5 L1304.9,858.4 L1306.9,857.4 L1308.9,856.4 L1310.9,855.4 L1312.9,854.4 L1314.9,853.4 L1316.9,852.4 L1318.9,851.4 L1320.9,850.4 L1322.9,849.4 L1324.9,848.3 L1326.9,847.3 L1328.9,846.3 L1330.9,845.3 L1332.9,844.3 L1334.9,843.2 L1336.9,842.2 L1338.9,841.2 L1340.9,840.2 L1342.9,839.1 L1344.9,838.1 L1346.9,837.1 L1348.9,836.0 L1350.9,835.0 L1352.9,834.0 L1354.9,832.9 L1356.9,831.9 L1358.9,830.9 L1360.9,829.8 L1362.9,828.8 L1364.9,827.7 L1366.9,826.7 L1368.9,825.7 L1370.9,824.6 L1372.9,823.6 L1374.9,822.5 L1376.9,821.5 L1378.9,820.4 L1380.9,819.4 L1382.9,818.3 L1384.9,817.3 L1386.9,816.2 L1388.9,815.2 L1390.9,814.1 L1392.9,813.0 L1394.9,812.0 L1396.9,810.9 L1398.9,809.9 L1400.9,808.8 L1402.9,807.7 L1404.9,806.7 L1406.9,805.6 L1408.9,804.5 L1410.9,803.5 L1412.9,802.4 L1414.9,801.3 L1416.9,800.2 L1418.9,799.2 L1420.9,798.1 L1422.9,797.0 L1424.9,795.9 L1426.9,794.9 L1428.9,793.8 L1430.9,792.7 L1432.9,791.6 L1434.9,790.5 L1436.9,789.4 L1438.9,788.3 L1440.9,787.3 L1442.9,786.2 L1444.9,785.1 L1446.9,784.0 L1448.9,782.9 L1450.9,781.8 L1452.9,780.7 L1454.9,779.6 L1456.9,778.5 L1458.9,777.4 L1460.9,776.3 L1462.9,775.2 L1464.9,774.1 L1466.9,773.0 L1468.9,771.9 L1470.9,770.8 L1472.9,769.7 L1474.9,768.6 L1476.9,767.5 L1478.9,766.4 L1480.9,765.2 L1482.9,764.1 L1484.9,763.0 L1486.9,761.9 L1488.9,760.8 L1490.9,759.7 L1492.9,758.5 L1494.9,757.4 L1496.9,756.3 L1498.9,755.2 L1500.9,754.0 L1502.9,752.9 L1504.9,751.8 L1506.9,750.7 L1508.9,749.5 L1510.9,748.4 L1512.9,747.3 L1514.9,746.1 L1516.9,745.0 L1518.9,743.9 L1520.9,742.7 L1522.9,741.6 L1524.9,740.5 L1526.9,739.3 L1528.9,738.2 L1530.9,737.0 L1532.9,735.9 L1534.9,734.7 L1536.9,733.6 L1538.9,732.4 L1540.9,731.3 L1542.9,730.1 L1544.9,729.0 L1546.9,727.8 L1548.9,726.7 L1550.9,725.5 L1552.9,724.4 L1554.9,723.2 L1556.9,722.1 L1558.9,720.9 L1560.9,719.7 L1562.9,718.6 L1564.9,717.4 L1566.9,716.2 L1568.9,715.1 L1570.9,713.9 L1572.9,712.7 L1574.9,711.6 L1576.9,710.4 L1578.9,709.2 L1580.9,708.1 L1582.9,706.9 L1584.9,705.7 L1586.9,704.5 L1588.9,703.4 L1590.9,702.2 L1592.9,701.0 L1594.9,699.8 L1596.9,698.6 L1598.9,697.4 L1600.9,696.3 L1602.9,695.1 L1604.9,693.9 L1606.9,692.7 L1608.9,691.5 L1610.9,690.3 L1612.9,689.1 L1614.9,687.9 L1616.9,686.7 L1618.9,685.5 L1620.9,684.3 L1622.9,683.1 L1624.9,681.9 L1626.9,680.7 L1628.9,679.5 L1630.9,678.3 L1632.6,677.3" fill="none" stroke="#9a3c12" stroke-width="5" stroke-dasharray="23 8.5 10 8.5" stroke-dashoffset="0"/>
<line x1="557" y1="1180.7" x2="571.2" y2="1169.8" stroke="#f01414" stroke-width="5.5"/>
<line x1="593.2" y1="1155.8" x2="614.2" y2="1139.2" stroke="#f01414" stroke-width="5.5"/>
<line x1="628.5" y1="1127" x2="655.6" y2="1107.5" stroke="#f01414" stroke-width="5.5"/>
<line x1="676" y1="1090.5" x2="696.2" y2="1073.8" stroke="#f01414" stroke-width="5.5"/>
<line x1="713.2" y1="1052.8" x2="731" y2="1032.6" stroke="#f01414" stroke-width="5.5"/>
<line x1="744.6" y1="1009.8" x2="758.9" y2="985.8" stroke="#f01414" stroke-width="5.5"/>
<line x1="768.4" y1="962" x2="782" y2="938.9" stroke="#f01414" stroke-width="5.5"/>
<line x1="789.4" y1="913.2" x2="801" y2="888.2" stroke="#f01414" stroke-width="5.5"/>
<circle cx="401.5" cy="1108.9" r="16" fill="none" stroke="#c04848" stroke-width="2.2"/>
<circle cx="401.5" cy="1162.5" r="16" fill="none" stroke="#c04848" stroke-width="2.2"/>
<circle cx="401.5" cy="1184.5" r="16" fill="none" stroke="#c04848" stroke-width="2.2"/>
<circle cx="555.9" cy="1055.6" r="16" fill="none" stroke="#c04848" stroke-width="2.2"/>
<circle cx="555.9" cy="1116.2" r="16" fill="none" stroke="#c04848" stroke-width="2.2"/>
<circle cx="555.9" cy="1149" r="16" fill="none" stroke="#c04848" stroke-width="2.2"/>
<circle cx="632.4" cy="1089.4" r="16" fill="none" stroke="#c04848" stroke-width="2.2"/>
<circle cx="709.8" cy="1001.1" r="16" fill="none" stroke="#c04848" stroke-width="2.2"/>
<rect x="620.4" y="1110.5" width="26" height="26" fill="none" stroke="#5ccf80" stroke-width="2.2"/>
<rect x="696.7" y="1054.3" width="26" height="26" fill="none" stroke="#5ccf80" stroke-width="2.2"/>
<path d="M709.8,1082.6 L727.8,1113.6 L691.8,1113.6 Z" fill="none" stroke="#2e2e90" stroke-width="2.1" stroke-linejoin="miter"/>
<path d="M786.9,950.0 L804.9,981.0 L768.9,981.0 Z" fill="none" stroke="#2e2e90" stroke-width="2.1" stroke-linejoin="miter"/>
<path d="M864.0,926.6 L882.0,957.6 L846.0,957.6 Z" fill="none" stroke="#2e2e90" stroke-width="2.1" stroke-linejoin="miter"/>
<path d="M864.0,991.6 L882.0,1022.6 L846.0,1022.6 Z" fill="none" stroke="#2e2e90" stroke-width="2.1" stroke-linejoin="miter"/>
<path d="M864.0,1031.8 L882.0,1062.8 L846.0,1062.8 Z" fill="none" stroke="#2e2e90" stroke-width="2.1" stroke-linejoin="miter"/>
<path d="M1018.2,859.1 L1036.2,890.1 L1000.2,890.1 Z" fill="none" stroke="#2e2e90" stroke-width="2.1" stroke-linejoin="miter"/>
<path d="M1018.2,922.3 L1036.2,953.3 L1000.2,953.3 Z" fill="none" stroke="#2e2e90" stroke-width="2.1" stroke-linejoin="miter"/>
<path d="M1018.2,967.2 L1036.2,998.2 L1000.2,998.2 Z" fill="none" stroke="#2e2e90" stroke-width="2.1" stroke-linejoin="miter"/>
<path d="M1172.3,785.5 L1190.3,816.5 L1154.3,816.5 Z" fill="none" stroke="#2e2e90" stroke-width="2.1" stroke-linejoin="miter"/>
<path d="M1172.3,848.2 L1190.3,879.2 L1154.3,879.2 Z" fill="none" stroke="#2e2e90" stroke-width="2.1" stroke-linejoin="miter"/>
<path d="M1172.3,900.2 L1190.3,931.2 L1154.3,931.2 Z" fill="none" stroke="#2e2e90" stroke-width="2.1" stroke-linejoin="miter"/>
<path d="M1326.5,713.4 L1344.5,744.4 L1308.5,744.4 Z" fill="none" stroke="#2e2e90" stroke-width="2.1" stroke-linejoin="miter"/>
<path d="M1326.5,790.9 L1344.5,821.9 L1308.5,821.9 Z" fill="none" stroke="#2e2e90" stroke-width="2.1" stroke-linejoin="miter"/>
<path d="M1326.5,826.4 L1344.5,857.4 L1308.5,857.4 Z" fill="none" stroke="#2e2e90" stroke-width="2.1" stroke-linejoin="miter"/>
<path d="M1480.7,624.1 L1498.7,655.1 L1462.7,655.1 Z" fill="none" stroke="#2e2e90" stroke-width="2.1" stroke-linejoin="miter"/>
<path d="M1480.7,713.3 L1498.7,744.3 L1462.7,744.3 Z" fill="none" stroke="#2e2e90" stroke-width="2.1" stroke-linejoin="miter"/>
<path d="M1480.7,747.7 L1498.7,778.7 L1462.7,778.7 Z" fill="none" stroke="#2e2e90" stroke-width="2.1" stroke-linejoin="miter"/>
<path d="M1634.8,515.8 L1652.8,546.8 L1616.8,546.8 Z" fill="none" stroke="#2e2e90" stroke-width="2.1" stroke-linejoin="miter"/>
<path d="M1634.8,624.3 L1652.8,655.3 L1616.8,655.3 Z" fill="none" stroke="#2e2e90" stroke-width="2.1" stroke-linejoin="miter"/>
<path d="M1634.8,656.1 L1652.8,687.1 L1616.8,687.1 Z" fill="none" stroke="#2e2e90" stroke-width="2.1" stroke-linejoin="miter"/>
<rect x="247" y="1461.5" width="1554" height="5.5" fill="#adadad"/>
<rect x="247" y="1461.5" width="3" height="1140.5" fill="#bdbdbd"/>
<rect x="250" y="1461.5" width="3" height="1140.5" fill="#9a9a9a"/>
<rect x="1796" y="1461.5" width="2.5" height="1140.5" fill="#c8c8c8"/>
<rect x="1798.5" y="1461.5" width="2.5" height="1140.5" fill="#808080"/>
<rect x="250" y="2599" width="1550" height="3" fill="#3c3c3c"/>
<rect x="403.8" y="2584" width="3" height="15" fill="#444"/>
<rect x="404.0" y="1466" width="2.6" height="15" fill="#444"/>
<rect x="558.6" y="2584" width="3" height="15" fill="#444"/>
<rect x="558.8" y="1466" width="2.6" height="15" fill="#444"/>
<rect x="713.4" y="2584" width="3" height="15" fill="#444"/>
<rect x="713.6" y="1466" width="2.6" height="15" fill="#444"/>
<rect x="868.2" y="2584" width="3" height="15" fill="#444"/>
<rect x="868.4" y="1466" width="2.6" height="15" fill="#444"/>
<rect x="1023.0" y="2584" width="3" height="15" fill="#444"/>
<rect x="1023.2" y="1466" width="2.6" height="15" fill="#444"/>
<rect x="1177.8" y="2584" width="3" height="15" fill="#444"/>
<rect x="1178.0" y="1466" width="2.6" height="15" fill="#444"/>
<rect x="1332.6" y="2584" width="3" height="15" fill="#444"/>
<rect x="1332.8" y="1466" width="2.6" height="15" fill="#444"/>
<rect x="1487.4" y="2584" width="3" height="15" fill="#444"/>
<rect x="1487.6" y="1466" width="2.6" height="15" fill="#444"/>
<rect x="1642.2" y="2584" width="3" height="15" fill="#444"/>
<rect x="1642.4" y="1466" width="2.6" height="15" fill="#444"/>
<rect x="253" y="2424.2" width="15" height="2.6" fill="#444"/>
<rect x="1781" y="2424.2" width="15" height="2.6" fill="#555"/>
<rect x="253" y="2249.2" width="15" height="2.6" fill="#444"/>
<rect x="1781" y="2249.2" width="15" height="2.6" fill="#555"/>
<rect x="253" y="2074.2" width="15" height="2.6" fill="#444"/>
<rect x="1781" y="2074.2" width="15" height="2.6" fill="#555"/>
<rect x="253" y="1899.2" width="15" height="2.6" fill="#444"/>
<rect x="1781" y="1899.2" width="15" height="2.6" fill="#555"/>
<rect x="253" y="1724.2" width="15" height="2.6" fill="#444"/>
<rect x="1781" y="1724.2" width="15" height="2.6" fill="#555"/>
<rect x="253" y="1549.2" width="15" height="2.6" fill="#444"/>
<rect x="1781" y="1549.2" width="15" height="2.6" fill="#555"/>
<text x="250.5" y="2693" font-size="77" text-anchor="middle" >0</text>
<text x="405.3" y="2693" font-size="77" text-anchor="middle" >25</text>
<text x="560.1" y="2693" font-size="77" text-anchor="middle" >50</text>
<text x="714.9" y="2693" font-size="77" text-anchor="middle" >75</text>
<text x="869.7" y="2693" font-size="77" text-anchor="middle" >100</text>
<text x="1024.5" y="2693" font-size="77" text-anchor="middle" >125</text>
<text x="1179.3" y="2693" font-size="77" text-anchor="middle" >150</text>
<text x="1334.1" y="2693" font-size="77" text-anchor="middle" >175</text>
<text x="1488.9" y="2693" font-size="77" text-anchor="middle" >200</text>
<text x="1643.7" y="2693" font-size="77" text-anchor="middle" >225</text>
<text x="1798.5" y="2693" font-size="77" text-anchor="middle" >250</text>
<text x="226" y="2627.5" font-size="77" text-anchor="end" >0</text>
<text x="225" y="2452.5" font-size="77" text-anchor="end" >0.1</text>
<text x="225" y="2277.5" font-size="77" text-anchor="end" >0.2</text>
<text x="225" y="2102.5" font-size="77" text-anchor="end" >0.3</text>
<text x="225" y="1927.5" font-size="77" text-anchor="end" >0.4</text>
<text x="225" y="1752.5" font-size="77" text-anchor="end" >0.5</text>
<text x="225" y="1577.5" font-size="77" text-anchor="end" >0.6</text>
<text x="1024.5" y="2785" font-size="83" text-anchor="middle" textLength="689" lengthAdjust="spacingAndGlyphs">Flow-out coefficient</text>
<text transform="translate(99,2032.3) rotate(-90)" x="0" y="0" font-size="83" text-anchor="middle" textLength="1249" lengthAdjust="spacingAndGlyphs">Dimensionless gas break-through time</text>
<circle cx="1297.2" cy="1548.4" r="17" fill="none" stroke="#c04848" stroke-width="2.2"/>
<rect x="1284.4" y="1623.6" width="27" height="27" fill="none" stroke="#5ccf80" stroke-width="2.2"/>
<path d="M1297.2,1702.5 L1316.7,1734.0 L1277.7,1734.0 Z" fill="none" stroke="#2e2e90" stroke-width="2.1" stroke-linejoin="miter"/>
<text x="1379" y="1574.7" font-size="77" text-anchor="start" textLength="308.5" lengthAdjust="spacingAndGlyphs">Abnormal</text>
<text x="1381" y="1662.4" font-size="77" text-anchor="start" textLength="366" lengthAdjust="spacingAndGlyphs">Transitional</text>
<text x="1379" y="1750.1" font-size="77" text-anchor="start" textLength="232" lengthAdjust="spacingAndGlyphs">Normal</text>
<path d="M338.3,1691.0 L340.3,1692.7 L342.3,1694.3 L344.3,1696.0 L346.3,1697.7 L348.3,1699.3 L350.3,1701.0 L352.3,1702.6 L354.3,1704.3 L356.3,1705.9 L358.3,1707.5 L360.3,1709.2 L362.3,1710.8 L364.3,1712.4 L366.3,1714.1 L368.3,1715.7 L370.3,1717.3 L372.3,1718.9 L374.3,1720.5 L376.3,1722.1 L378.3,1723.7 L380.3,1725.4 L382.3,1726.9 L384.3,1728.5 L386.3,1730.1 L388.3,1731.7 L390.3,1733.3 L392.3,1734.9 L394.3,1736.5 L396.3,1738.0 L398.3,1739.6 L400.3,1741.2 L402.3,1742.7 L404.3,1744.3 L406.3,1745.8 L408.3,1747.4 L410.3,1748.9 L412.3,1750.5 L414.3,1752.0 L416.3,1753.6 L418.3,1755.1 L420.3,1756.6 L422.3,1758.1 L424.3,1759.7 L426.3,1761.2 L428.3,1762.7 L430.3,1764.2 L432.3,1765.7 L434.3,1767.2 L436.3,1768.7 L438.3,1770.2 L440.3,1771.7 L442.3,1773.2 L444.3,1774.7 L446.3,1776.2 L448.3,1777.7 L450.3,1779.1 L452.3,1780.6 L454.3,1782.1 L456.3,1783.6 L458.3,1785.0 L460.3,1786.5 L462.3,1787.9 L464.3,1789.4 L466.3,1790.8 L468.3,1792.3 L470.3,1793.7 L472.3,1795.2 L474.3,1796.6 L476.3,1798.0 L478.3,1799.5 L480.3,1800.9 L482.3,1802.3 L484.3,1803.7 L486.3,1805.1 L488.3,1806.5 L490.3,1807.9 L492.3,1809.3 L494.3,1810.7 L496.3,1812.1 L498.3,1813.5 L500.3,1814.9 L502.3,1816.3 L504.3,1817.7 L506.3,1819.1 L508.3,1820.4 L510.3,1821.8 L512.3,1823.2 L514.3,1824.5 L516.3,1825.9 L518.3,1827.3 L520.3,1828.6 L522.3,1830.0 L524.3,1831.3 L526.3,1832.6 L528.3,1834.0 L530.3,1835.3 L532.3,1836.7 L534.3,1838.0 L536.3,1839.3 L538.3,1840.6 L540.3,1841.9 L542.3,1843.3 L544.3,1844.6 L546.3,1845.9 L548.3,1847.2 L550.3,1848.5 L552.3,1849.8 L554.3,1851.1 L556.3,1852.4 L558.3,1853.7 L560.3,1854.9 L562.3,1856.2 L564.3,1857.5 L566.3,1858.8 L568.3,1860.0 L570.3,1861.3 L572.3,1862.6 L574.3,1863.8 L576.3,1865.1 L578.3,1866.3 L580.3,1867.6 L582.3,1868.8 L584.3,1870.1 L586.3,1871.3 L588.3,1872.5 L590.3,1873.8 L592.3,1875.0 L594.3,1876.2 L596.3,1877.4 L598.3,1878.6 L600.3,1879.9 L602.3,1881.1 L604.3,1882.3 L606.3,1883.5 L608.3,1884.7 L610.3,1885.9 L612.3,1887.1 L614.3,1888.2 L616.3,1889.4 L618.3,1890.6 L620.3,1891.8 L622.3,1893.0 L624.3,1894.1 L626.3,1895.3 L628.3,1896.5 L630.3,1897.6 L632.3,1898.8 L634.3,1899.9 L636.3,1901.1 L638.3,1902.2 L640.3,1903.4 L642.3,1904.5 L644.3,1905.6 L646.3,1906.8 L648.3,1907.9 L650.3,1909.0 L652.3,1910.1 L654.3,1911.3 L656.3,1912.4 L658.3,1913.5 L660.3,1914.6 L662.3,1915.7 L664.3,1916.8 L666.3,1917.9 L668.3,1919.0 L670.3,1920.1 L672.3,1921.1 L674.3,1922.2 L676.3,1923.3 L678.3,1924.4 L680.3,1925.5 L682.3,1926.5 L684.3,1927.6 L686.3,1928.6 L688.3,1929.7 L690.3,1930.8 L692.3,1931.8 L694.3,1932.9 L696.3,1933.9 L698.3,1934.9 L700.3,1936.0 L702.3,1937.0 L704.3,1938.0 L706.3,1939.1 L708.3,1940.1 L710.3,1941.1 L712.3,1942.1 L714.3,1943.1 L716.3,1944.1 L718.3,1945.1 L720.3,1946.1 L722.3,1947.1 L724.3,1948.1 L726.3,1949.1 L728.3,1950.1 L730.3,1951.1 L732.3,1952.1 L734.3,1953.0 L736.3,1954.0 L738.3,1955.0 L740.3,1956.0 L742.3,1956.9 L744.3,1957.9 L746.3,1958.8 L748.3,1959.8 L750.3,1960.7 L752.3,1961.7 L754.3,1962.6 L756.3,1963.5 L758.3,1964.5 L760.3,1965.4 L762.3,1966.3 L764.3,1967.3 L766.3,1968.2 L768.3,1969.1 L770.3,1970.0 L772.3,1970.9 L774.3,1971.8 L776.3,1972.7 L778.3,1973.6 L780.3,1974.5 L782.3,1975.4 L784.3,1976.3 L786.3,1977.2 L788.3,1978.1 L790.3,1978.9 L792.3,1979.8 L794.3,1980.7 L796.3,1981.5 L798.3,1982.4 L800.3,1983.3 L802.3,1984.1 L804.3,1985.0 L806.3,1985.8 L808.3,1986.7 L810.3,1987.5 L812.3,1988.4 L814.3,1989.2 L816.3,1990.0 L818.3,1990.8 L820.3,1991.7 L822.3,1992.5 L824.3,1993.3 L826.3,1994.1 L828.3,1994.9 L830.3,1995.7 L832.3,1996.5 L834.3,1997.3 L836.3,1998.1 L838.3,1998.9 L840.3,1999.7 L842.3,2000.5 L844.3,2001.3 L846.3,2002.1 L848.3,2002.8 L850.3,2003.6 L852.3,2004.4 L854.3,2005.1 L856.3,2005.9 L858.3,2006.6 L860.3,2007.4 L862.3,2008.2 L864.3,2008.9 L866.3,2009.6 L868.3,2010.4 L870.3,2011.1 L872.3,2011.8 L874.3,2012.6 L876.3,2013.3 L878.3,2014.0 L880.3,2014.7 L882.3,2015.4 L884.3,2016.2 L886.3,2016.9 L888.3,2017.6 L890.3,2018.3 L892.3,2019.0 L894.3,2019.7 L896.3,2020.3 L898.3,2021.0 L900.3,2021.7 L902.3,2022.4 L904.3,2023.1 L906.3,2023.7 L908.3,2024.4 L910.3,2025.1 L912.3,2025.7 L914.3,2026.4 L916.3,2027.0 L918.3,2027.7 L920.3,2028.3 L922.3,2029.0 L924.3,2029.6 L926.3,2030.2 L928.3,2030.9 L930.3,2031.5 L932.3,2032.1 L934.3,2032.8 L936.3,2033.4 L938.3,2034.0 L940.3,2034.6 L942.3,2035.2 L944.3,2035.8 L946.3,2036.4 L948.3,2037.0 L950.3,2037.6 L952.3,2038.2 L954.3,2038.8 L956.3,2039.4 L958.3,2039.9 L960.3,2040.5 L962.3,2041.1 L964.3,2041.6 L966.3,2042.2 L968.3,2042.8 L970.3,2043.3 L972.3,2043.9 L974.3,2044.4 L976.3,2045.0 L978.3,2045.5 L980.3,2046.1 L982.3,2046.6 L984.3,2047.1 L986.3,2047.6 L988.3,2048.2 L990.3,2048.7 L992.3,2049.2 L994.3,2049.7 L996.3,2050.2 L998.3,2050.7 L1000.3,2051.2 L1002.3,2051.7 L1004.3,2052.2 L1006.3,2052.7 L1008.3,2053.2 L1010.3,2053.7 L1012.3,2054.2 L1014.3,2054.7 L1016.3,2055.1 L1018.3,2055.6 L1020.3,2056.1 L1022.3,2056.5 L1024.3,2057.0 L1026.3,2057.5 L1028.3,2057.9 L1030.3,2058.4 L1032.3,2058.8 L1034.3,2059.2 L1036.3,2059.7 L1038.3,2060.1 L1040.3,2060.5 L1042.3,2061.0 L1044.3,2061.4 L1046.3,2061.8 L1048.3,2062.2 L1050.3,2062.6 L1052.3,2063.1 L1054.3,2063.5 L1056.3,2063.9 L1058.3,2064.3 L1060.3,2064.7 L1062.3,2065.0 L1064.3,2065.4 L1066.3,2065.8 L1068.3,2066.2 L1070.3,2066.6 L1072.3,2066.9 L1074.3,2067.3 L1076.3,2067.7 L1078.3,2068.0 L1080.3,2068.4 L1082.3,2068.8 L1084.3,2069.1 L1086.3,2069.5 L1088.3,2069.8 L1090.3,2070.1 L1092.3,2070.5 L1094.3,2070.8 L1096.3,2071.1 L1098.3,2071.5 L1100.3,2071.8 L1102.3,2072.1 L1104.3,2072.4 L1106.3,2072.7 L1108.3,2073.0 L1110.3,2073.3 L1112.3,2073.6 L1114.3,2073.9 L1116.3,2074.2 L1118.3,2074.5 L1120.3,2074.8 L1122.3,2075.1 L1124.3,2075.4 L1126.3,2075.7 L1128.3,2075.9 L1130.3,2076.2 L1132.3,2076.5 L1134.3,2076.7 L1136.3,2077.0 L1138.3,2077.2 L1140.3,2077.5 L1142.3,2077.7 L1144.3,2078.0 L1146.3,2078.2 L1148.3,2078.4 L1150.3,2078.7 L1152.3,2078.9 L1154.3,2079.1 L1156.3,2079.3 L1157.6,2079.5" fill="none" stroke="#009090" stroke-width="5.2" stroke-dasharray="24 25.5" stroke-dashoffset="0"/>
<path d="M356.6,1766.0 L358.6,1767.9 L360.6,1769.7 L362.6,1771.6 L364.6,1773.5 L366.6,1775.3 L368.6,1777.2 L370.6,1779.1 L372.6,1780.9 L374.6,1782.8 L376.6,1784.6 L378.6,1786.5 L380.6,1788.3 L382.6,1790.1 L384.6,1792.0 L386.6,1793.8 L388.6,1795.6 L390.6,1797.4 L392.6,1799.2 L394.6,1801.1 L396.6,1802.9 L398.6,1804.7 L400.6,1806.5 L402.6,1808.3 L404.6,1810.1 L406.6,1811.8 L408.6,1813.6 L410.6,1815.4 L412.6,1817.2 L414.6,1819.0 L416.6,1820.7 L418.6,1822.5 L420.6,1824.3 L422.6,1826.0 L424.6,1827.8 L426.6,1829.5 L428.6,1831.3 L430.6,1833.0 L432.6,1834.8 L434.6,1836.5 L436.6,1838.2 L438.6,1840.0 L440.6,1841.7 L442.6,1843.4 L444.6,1845.1 L446.6,1846.9 L448.6,1848.6 L450.6,1850.3 L452.6,1852.0 L454.6,1853.7 L456.6,1855.4 L458.6,1857.1 L460.6,1858.8 L462.6,1860.5 L464.6,1862.1 L466.6,1863.8 L468.6,1865.5 L470.6,1867.2 L472.6,1868.8 L474.6,1870.5 L476.6,1872.2 L478.6,1873.8 L480.6,1875.5 L482.6,1877.1 L484.6,1878.8 L486.6,1880.4 L488.6,1882.1 L490.6,1883.7 L492.6,1885.3 L494.6,1887.0 L496.6,1888.6 L498.6,1890.2 L500.6,1891.8 L502.6,1893.5 L504.6,1895.1 L506.6,1896.7 L508.6,1898.3 L510.6,1899.9 L512.6,1901.5 L514.6,1903.1 L516.6,1904.7 L518.6,1906.3 L520.6,1907.9 L522.6,1909.5 L524.6,1911.0 L526.6,1912.6 L528.6,1914.2 L530.6,1915.8 L532.6,1917.3 L534.6,1918.9 L536.6,1920.4 L538.6,1922.0 L540.6,1923.6 L542.6,1925.1 L544.6,1926.6 L546.6,1928.2 L548.6,1929.7 L550.6,1931.3 L552.6,1932.8 L554.6,1934.3 L556.6,1935.9 L558.6,1937.4 L560.6,1938.9 L562.6,1940.4 L564.6,1941.9 L566.6,1943.4 L568.6,1945.0 L570.6,1946.5 L572.6,1948.0 L574.6,1949.5 L576.6,1951.0 L578.6,1952.4 L580.6,1953.9 L582.6,1955.4 L584.6,1956.9 L586.6,1958.4 L588.6,1959.8 L590.6,1961.3 L592.6,1962.8 L594.6,1964.3 L596.6,1965.7 L598.6,1967.2 L600.6,1968.6 L602.6,1970.1 L604.6,1971.5 L606.6,1973.0 L608.6,1974.4 L610.6,1975.9 L612.6,1977.3 L614.6,1978.7 L616.6,1980.2 L618.6,1981.6 L620.6,1983.0 L622.6,1984.4 L624.6,1985.9 L626.6,1987.3 L628.6,1988.7 L630.6,1990.1 L632.6,1991.5 L634.6,1992.9 L636.6,1994.3 L638.6,1995.7 L640.6,1997.1 L642.6,1998.5 L644.6,1999.9 L646.6,2001.3 L648.6,2002.6 L650.6,2004.0 L652.6,2005.4 L654.6,2006.8 L656.6,2008.1 L658.6,2009.5 L660.6,2010.9 L662.6,2012.2 L664.6,2013.6 L666.6,2014.9 L668.6,2016.3 L670.6,2017.6 L672.6,2019.0 L674.6,2020.3 L676.6,2021.6 L678.6,2023.0 L680.6,2024.3 L682.6,2025.6 L684.6,2027.0 L686.6,2028.3 L688.6,2029.6 L690.6,2030.9 L692.6,2032.2 L694.6,2033.6 L696.6,2034.9 L698.6,2036.2 L700.6,2037.5 L702.6,2038.8 L704.6,2040.1 L706.6,2041.4 L708.6,2042.7 L710.6,2043.9 L712.6,2045.2 L714.6,2046.5 L716.6,2047.8 L718.6,2049.1 L720.6,2050.3 L722.6,2051.6 L724.6,2052.9 L726.6,2054.1 L728.6,2055.4 L730.6,2056.7 L732.6,2057.9 L734.6,2059.2 L736.6,2060.4 L738.6,2061.7 L740.6,2062.9 L742.6,2064.2 L744.6,2065.4 L746.6,2066.6 L748.6,2067.9 L750.6,2069.1 L752.6,2070.3 L754.6,2071.5 L756.6,2072.8 L758.6,2074.0 L760.6,2075.2 L762.6,2076.4 L764.6,2077.6 L766.6,2078.8 L768.6,2080.0 L770.6,2081.2 L772.6,2082.4 L774.6,2083.6 L776.6,2084.8 L778.6,2086.0 L780.6,2087.2 L782.6,2088.4 L784.6,2089.6 L786.6,2090.7 L788.6,2091.9 L790.6,2093.1 L792.6,2094.2 L794.6,2095.4 L796.6,2096.6 L798.6,2097.7 L800.6,2098.9 L802.6,2100.1 L804.6,2101.2 L806.6,2102.4 L808.6,2103.5 L810.6,2104.6 L812.6,2105.8 L814.6,2106.9 L816.6,2108.1 L818.6,2109.2 L820.6,2110.3 L822.6,2111.5 L824.6,2112.6 L826.6,2113.7 L828.6,2114.8 L830.6,2115.9 L832.6,2117.1 L834.6,2118.2 L836.6,2119.3 L838.6,2120.4 L840.6,2121.5 L842.6,2122.6 L844.6,2123.7 L846.6,2124.8 L848.6,2125.9 L850.6,2127.0 L852.6,2128.0 L854.6,2129.1 L856.6,2130.2 L858.6,2131.3 L860.6,2132.4 L862.6,2133.4 L864.6,2134.5 L866.6,2135.6 L868.6,2136.6 L870.6,2137.7 L872.6,2138.8 L874.6,2139.8 L876.6,2140.9 L878.6,2141.9 L880.6,2143.0 L882.6,2144.0 L884.6,2145.0 L886.6,2146.1 L888.6,2147.1 L890.6,2148.2 L892.6,2149.2 L894.6,2150.2 L896.6,2151.2 L898.6,2152.3 L900.6,2153.3 L902.6,2154.3 L904.6,2155.3 L906.6,2156.3 L908.6,2157.4 L910.6,2158.4 L912.6,2159.4 L914.6,2160.4 L916.6,2161.4 L918.6,2162.4 L920.6,2163.4 L922.6,2164.3 L924.6,2165.3 L926.6,2166.3 L928.6,2167.3 L930.6,2168.3 L932.6,2169.3 L934.6,2170.2 L936.6,2171.2 L938.6,2172.2 L940.6,2173.2 L942.6,2174.1 L944.6,2175.1 L946.6,2176.0 L948.6,2177.0 L950.6,2177.9 L952.6,2178.9 L954.6,2179.8 L956.6,2180.8 L958.6,2181.7 L960.6,2182.7 L962.6,2183.6 L964.6,2184.6 L966.6,2185.5 L968.6,2186.4 L970.6,2187.3 L972.6,2188.3 L974.6,2189.2 L976.6,2190.1 L978.6,2191.0 L980.6,2191.9 L982.6,2192.9 L984.6,2193.8 L986.6,2194.7 L988.6,2195.6 L990.6,2196.5 L992.6,2197.4 L994.6,2198.3 L996.6,2199.2 L998.6,2200.1 L1000.6,2200.9 L1002.6,2201.8 L1004.6,2202.7 L1006.6,2203.6 L1008.6,2204.5 L1010.6,2205.3 L1012.6,2206.2 L1014.6,2207.1 L1016.6,2208.0 L1018.6,2208.8 L1020.6,2209.7 L1022.6,2210.5 L1024.6,2211.4 L1026.6,2212.3 L1028.6,2213.1 L1030.6,2214.0 L1032.6,2214.8 L1034.6,2215.6 L1036.6,2216.5 L1038.6,2217.3 L1040.6,2218.2 L1042.6,2219.0 L1044.6,2219.8 L1046.6,2220.6 L1048.6,2221.5 L1050.6,2222.3 L1052.6,2223.1 L1054.6,2223.9 L1056.6,2224.7 L1058.6,2225.6 L1060.6,2226.4 L1062.6,2227.2 L1064.6,2228.0 L1066.6,2228.8 L1068.6,2229.6 L1070.6,2230.4 L1072.6,2231.2 L1074.6,2232.0 L1076.6,2232.7 L1078.6,2233.5 L1080.6,2234.3 L1082.6,2235.1 L1084.6,2235.9 L1086.6,2236.7 L1088.6,2237.4 L1090.6,2238.2 L1092.6,2239.0 L1094.6,2239.7 L1096.6,2240.5 L1098.6,2241.2 L1100.6,2242.0 L1102.6,2242.8 L1104.6,2243.5 L1106.6,2244.3 L1108.6,2245.0 L1110.6,2245.8 L1112.6,2246.5 L1114.6,2247.2 L1116.6,2248.0 L1118.6,2248.7 L1120.6,2249.4 L1122.6,2250.2 L1124.6,2250.9 L1126.6,2251.6 L1128.6,2252.3 L1130.6,2253.0 L1132.6,2253.8 L1134.6,2254.5 L1136.6,2255.2 L1138.6,2255.9 L1140.6,2256.6 L1142.6,2257.3 L1144.6,2258.0 L1146.6,2258.7 L1148.6,2259.4 L1150.6,2260.1 L1152.6,2260.8 L1154.6,2261.5 L1156.6,2262.1 L1158.6,2262.8 L1160.6,2263.5 L1162.6,2264.2 L1164.6,2264.8 L1166.6,2265.5 L1168.6,2266.2 L1170.6,2266.9 L1172.6,2267.5 L1174.6,2268.2 L1176.6,2268.8 L1178.6,2269.5 L1180.6,2270.1 L1182.6,2270.8 L1184.6,2271.4 L1186.6,2272.1 L1188.6,2272.7 L1190.6,2273.4 L1192.6,2274.0 L1194.6,2274.6 L1196.6,2275.3 L1198.6,2275.9 L1200.6,2276.5 L1202.6,2277.1 L1204.6,2277.8 L1206.6,2278.4 L1208.6,2279.0 L1210.6,2279.6 L1212.6,2280.2 L1214.6,2280.8 L1216.6,2281.4 L1218.6,2282.0 L1220.6,2282.6 L1222.6,2283.2 L1224.6,2283.8 L1226.6,2284.4 L1228.6,2285.0 L1230.6,2285.6 L1232.6,2286.2 L1234.6,2286.7 L1236.6,2287.3 L1238.6,2287.9 L1240.6,2288.5 L1242.6,2289.0 L1244.6,2289.6 L1246.6,2290.2 L1248.6,2290.7 L1250.6,2291.3 L1252.6,2291.8 L1254.6,2292.4 L1256.6,2292.9 L1258.6,2293.5 L1260.6,2294.0 L1262.6,2294.6 L1264.6,2295.1 L1266.6,2295.7 L1268.6,2296.2 L1270.6,2296.7 L1272.6,2297.3 L1274.6,2297.8 L1276.6,2298.3 L1278.6,2298.8 L1280.6,2299.3 L1282.6,2299.9 L1284.6,2300.4 L1286.6,2300.9 L1288.6,2301.4 L1290.6,2301.9 L1292.6,2302.4 L1294.6,2302.9 L1296.6,2303.4 L1298.6,2303.9 L1300.6,2304.4 L1302.6,2304.9 L1304.6,2305.3 L1306.6,2305.8 L1308.6,2306.3 L1310.6,2306.8 L1312.6,2307.3 L1314.6,2307.7 L1316.6,2308.2 L1318.6,2308.7 L1320.6,2309.1 L1322.6,2309.6 L1324.6,2310.0 L1326.6,2310.5 L1328.6,2311.0 L1330.6,2311.4 L1332.6,2311.9 L1334.6,2312.3 L1336.6,2312.7 L1338.6,2313.2 L1340.6,2313.6 L1342.6,2314.0 L1344.6,2314.5 L1346.6,2314.9 L1348.6,2315.3 L1350.6,2315.8 L1352.6,2316.2 L1354.6,2316.6 L1356.6,2317.0 L1358.6,2317.4 L1360.6,2317.8 L1362.6,2318.2 L1364.6,2318.6 L1366.6,2319.0 L1368.6,2319.4 L1370.6,2319.8 L1372.6,2320.2 L1374.6,2320.6 L1376.6,2321.0 L1378.6,2321.4 L1380.6,2321.7 L1382.6,2322.1 L1384.6,2322.5 L1386.6,2322.9 L1388.6,2323.2 L1390.6,2323.6 L1392.6,2324.0 L1394.6,2324.3 L1396.6,2324.7 L1398.6,2325.0 L1400.6,2325.4 L1402.6,2325.7 L1404.6,2326.1 L1406.6,2326.4 L1408.6,2326.8 L1410.6,2327.1 L1412.6,2327.4 L1414.6,2327.8 L1416.6,2328.1 L1418.6,2328.4 L1420.6,2328.7 L1422.6,2329.1 L1424.6,2329.4 L1426.6,2329.7 L1428.6,2330.0 L1430.6,2330.3 L1432.6,2330.6 L1434.6,2330.9 L1436.6,2331.2 L1438.6,2331.5 L1440.6,2331.8 L1442.6,2332.1 L1444.6,2332.4 L1446.6,2332.7 L1448.6,2332.9 L1450.6,2333.2 L1452.6,2333.5 L1454.6,2333.8 L1456.6,2334.0 L1458.6,2334.3 L1460.6,2334.6 L1462.6,2334.8 L1464.6,2335.1 L1466.6,2335.3 L1468.6,2335.6 L1470.6,2335.8 L1472.6,2336.1 L1474.6,2336.3 L1476.6,2336.6 L1478.6,2336.8 L1480.6,2337.0 L1482.6,2337.3 L1484.6,2337.5 L1486.6,2337.7 L1488.6,2337.9 L1490.6,2338.2 L1492.6,2338.4 L1494.6,2338.6 L1496.6,2338.8 L1498.6,2339.0 L1500.6,2339.2 L1502.6,2339.4 L1504.6,2339.6 L1506.6,2339.8 L1508.6,2340.0 L1509.3,2340.0" fill="none" stroke="#a040e0" stroke-width="4.6"/>
<path d="M357.4,1819.8 L359.4,1821.8 L361.4,1823.9 L363.4,1826.0 L365.4,1828.1 L367.4,1830.1 L369.4,1832.2 L371.4,1834.2 L373.4,1836.3 L375.4,1838.3 L377.4,1840.4 L379.4,1842.4 L381.4,1844.5 L383.4,1846.5 L385.4,1848.5 L387.4,1850.6 L389.4,1852.6 L391.4,1854.6 L393.4,1856.6 L395.4,1858.6 L397.4,1860.7 L399.4,1862.7 L401.4,1864.7 L403.4,1866.7 L405.4,1868.7 L407.4,1870.6 L409.4,1872.6 L411.4,1874.6 L413.4,1876.6 L415.4,1878.6 L417.4,1880.5 L419.4,1882.5 L421.4,1884.5 L423.4,1886.4 L425.4,1888.4 L427.4,1890.4 L429.4,1892.3 L431.4,1894.3 L433.4,1896.2 L435.4,1898.1 L437.4,1900.1 L439.4,1902.0 L441.4,1903.9 L443.4,1905.9 L445.4,1907.8 L447.4,1909.7 L449.4,1911.6 L451.4,1913.5 L453.4,1915.4 L455.4,1917.3 L457.4,1919.2 L459.4,1921.1 L461.4,1923.0 L463.4,1924.9 L465.4,1926.8 L467.4,1928.7 L469.4,1930.5 L471.4,1932.4 L473.4,1934.3 L475.4,1936.2 L477.4,1938.0 L479.4,1939.9 L481.4,1941.7 L483.4,1943.6 L485.4,1945.4 L487.4,1947.3 L489.4,1949.1 L491.4,1951.0 L493.4,1952.8 L495.4,1954.6 L497.4,1956.5 L499.4,1958.3 L501.4,1960.1 L503.4,1961.9 L505.4,1963.7 L507.4,1965.5 L509.4,1967.4 L511.4,1969.2 L513.4,1971.0 L515.4,1972.8 L517.4,1974.5 L519.4,1976.3 L521.4,1978.1 L523.4,1979.9 L525.4,1981.7 L527.4,1983.5 L529.4,1985.2 L531.4,1987.0 L533.4,1988.8 L535.4,1990.5 L537.4,1992.3 L539.4,1994.0 L541.4,1995.8 L543.4,1997.5 L545.4,1999.3 L547.4,2001.0 L549.4,2002.7 L551.4,2004.5 L553.4,2006.2 L555.4,2007.9 L557.4,2009.6 L559.4,2011.4 L561.4,2013.1 L563.4,2014.8 L565.4,2016.5 L567.4,2018.2 L569.4,2019.9 L571.4,2021.6 L573.4,2023.3 L575.4,2025.0 L577.4,2026.7 L579.4,2028.4 L581.4,2030.0 L583.4,2031.7 L585.4,2033.4 L587.4,2035.1 L589.4,2036.7 L591.4,2038.4 L593.4,2040.1 L595.4,2041.7 L597.4,2043.4 L599.4,2045.0 L601.4,2046.7 L603.4,2048.3 L605.4,2049.9 L607.4,2051.6 L609.4,2053.2 L611.4,2054.8 L613.4,2056.5 L615.4,2058.1 L617.4,2059.7 L619.4,2061.3 L621.4,2062.9 L623.4,2064.5 L625.4,2066.2 L627.4,2067.8 L629.4,2069.4 L631.4,2070.9 L633.4,2072.5 L635.4,2074.1 L637.4,2075.7 L639.4,2077.3 L641.4,2078.9 L643.4,2080.4 L645.4,2082.0 L647.4,2083.6 L649.4,2085.2 L651.4,2086.7 L653.4,2088.3 L655.4,2089.8 L657.4,2091.4 L659.4,2092.9 L661.4,2094.5 L663.4,2096.0 L665.4,2097.6 L667.4,2099.1 L669.4,2100.6 L671.4,2102.1 L673.4,2103.7 L675.4,2105.2 L677.4,2106.7 L679.4,2108.2 L681.4,2109.7 L683.4,2111.2 L685.4,2112.7 L687.4,2114.2 L689.4,2115.7 L691.4,2117.2 L693.4,2118.7 L695.4,2120.2 L697.4,2121.7 L699.4,2123.2 L701.4,2124.7 L703.4,2126.1 L705.4,2127.6 L707.4,2129.1 L709.4,2130.5 L711.4,2132.0 L713.4,2133.5 L715.4,2134.9 L717.4,2136.4 L719.4,2137.8 L721.4,2139.3 L723.4,2140.7 L725.4,2142.1 L727.4,2143.6 L729.4,2145.0 L731.4,2146.4 L733.4,2147.9 L735.4,2149.3 L737.4,2150.7 L739.4,2152.1 L741.4,2153.5 L743.4,2154.9 L745.4,2156.3 L747.4,2157.7 L749.4,2159.1 L751.4,2160.5 L753.4,2161.9 L755.4,2163.3 L757.4,2164.7 L759.4,2166.1 L761.4,2167.5 L763.4,2168.8 L765.4,2170.2 L767.4,2171.6 L769.4,2173.0 L771.4,2174.3 L773.4,2175.7 L775.4,2177.0 L777.4,2178.4 L779.4,2179.7 L781.4,2181.1 L783.4,2182.4 L785.4,2183.8 L787.4,2185.1 L789.4,2186.4 L791.4,2187.8 L793.4,2189.1 L795.4,2190.4 L797.4,2191.7 L799.4,2193.1 L801.4,2194.4 L803.4,2195.7 L805.4,2197.0 L807.4,2198.3 L809.4,2199.6 L811.4,2200.9 L813.4,2202.2 L815.4,2203.5 L817.4,2204.8 L819.4,2206.1 L821.4,2207.3 L823.4,2208.6 L825.4,2209.9 L827.4,2211.2 L829.4,2212.4 L831.4,2213.7 L833.4,2215.0 L835.4,2216.2 L837.4,2217.5 L839.4,2218.7 L841.4,2220.0 L843.4,2221.2 L845.4,2222.5 L847.4,2223.7 L849.4,2224.9 L851.4,2226.2 L853.4,2227.4 L855.4,2228.6 L857.4,2229.9 L859.4,2231.1 L861.4,2232.3 L863.4,2233.5 L865.4,2234.7 L867.4,2235.9 L869.4,2237.1 L871.4,2238.3 L873.4,2239.5 L875.4,2240.7 L877.4,2241.9 L879.4,2243.1 L881.4,2244.3 L883.4,2245.5 L885.4,2246.7 L887.4,2247.8 L889.4,2249.0 L891.4,2250.2 L893.4,2251.3 L895.4,2252.5 L897.4,2253.7 L899.4,2254.8 L901.4,2256.0 L903.4,2257.1 L905.4,2258.3 L907.4,2259.4 L909.4,2260.6 L911.4,2261.7 L913.4,2262.8 L915.4,2264.0 L917.4,2265.1 L919.4,2266.2 L921.4,2267.3 L923.4,2268.5 L925.4,2269.6 L927.4,2270.7 L929.4,2271.8 L931.4,2272.9 L933.4,2274.0 L935.4,2275.1 L937.4,2276.2 L939.4,2277.3 L941.4,2278.4 L943.4,2279.5 L945.4,2280.6 L947.4,2281.6 L949.4,2282.7 L951.4,2283.8 L953.4,2284.9 L955.4,2285.9 L957.4,2287.0 L959.4,2288.1 L961.4,2289.1 L963.4,2290.2 L965.4,2291.2 L967.4,2292.3 L969.4,2293.3 L971.4,2294.4 L973.4,2295.4 L975.4,2296.4 L977.4,2297.5 L979.4,2298.5 L981.4,2299.5 L983.4,2300.6 L985.4,2301.6 L987.4,2302.6 L989.4,2303.6 L991.4,2304.6 L993.4,2305.6 L995.4,2306.6 L997.4,2307.6 L999.4,2308.6 L1001.4,2309.6 L1003.4,2310.6 L1005.4,2311.6 L1007.4,2312.6 L1009.4,2313.6 L1011.4,2314.6 L1013.4,2315.5 L1015.4,2316.5 L1017.4,2317.5 L1019.4,2318.4 L1021.4,2319.4 L1023.4,2320.4 L1025.4,2321.3 L1027.4,2322.3 L1029.4,2323.2 L1031.4,2324.2 L1033.4,2325.1 L1035.4,2326.1 L1037.4,2327.0 L1039.4,2327.9 L1041.4,2328.9 L1043.4,2329.8 L1045.4,2330.7 L1047.4,2331.6 L1049.4,2332.6 L1051.4,2333.5 L1053.4,2334.4 L1055.4,2335.3 L1057.4,2336.2 L1059.4,2337.1 L1061.4,2338.0 L1063.4,2338.9 L1065.4,2339.8 L1067.4,2340.7 L1069.4,2341.6 L1071.4,2342.5 L1073.4,2343.3 L1075.4,2344.2 L1077.4,2345.1 L1079.4,2346.0 L1081.4,2346.8 L1083.4,2347.7 L1085.4,2348.6 L1087.4,2349.4 L1089.4,2350.3 L1091.4,2351.1 L1093.4,2352.0 L1095.4,2352.8 L1097.4,2353.7 L1099.4,2354.5 L1101.4,2355.3 L1103.4,2356.2 L1105.4,2357.0 L1107.4,2357.8 L1109.4,2358.7 L1111.4,2359.5 L1113.4,2360.3 L1115.4,2361.1 L1117.4,2361.9 L1119.4,2362.7 L1121.4,2363.5 L1123.4,2364.3 L1125.4,2365.1 L1127.4,2365.9 L1129.4,2366.7 L1131.4,2367.5 L1133.4,2368.3 L1135.4,2369.1 L1137.4,2369.9 L1139.4,2370.7 L1141.4,2371.4 L1143.4,2372.2 L1145.4,2373.0 L1147.4,2373.7 L1149.4,2374.5 L1151.4,2375.2 L1153.4,2376.0 L1155.4,2376.8 L1157.4,2377.5 L1159.4,2378.2 L1161.4,2379.0 L1163.4,2379.7 L1165.4,2380.5 L1167.4,2381.2 L1169.4,2381.9 L1171.4,2382.6 L1173.4,2383.4 L1175.4,2384.1 L1177.4,2384.8 L1179.4,2385.5 L1181.4,2386.2 L1183.4,2386.9 L1185.4,2387.6 L1187.4,2388.3 L1189.4,2389.0 L1191.4,2389.7 L1193.4,2390.4 L1195.4,2391.1 L1197.4,2391.8 L1199.4,2392.5 L1201.4,2393.2 L1203.4,2393.8 L1205.4,2394.5 L1207.4,2395.2 L1209.4,2395.8 L1211.4,2396.5 L1213.4,2397.2 L1215.4,2397.8 L1217.4,2398.5 L1219.4,2399.1 L1221.4,2399.8 L1223.4,2400.4 L1225.4,2401.0 L1227.4,2401.7 L1229.4,2402.3 L1231.4,2402.9 L1233.4,2403.6 L1235.4,2404.2 L1237.4,2404.8 L1239.4,2405.4 L1241.4,2406.0 L1243.4,2406.7 L1245.4,2407.3 L1247.4,2407.9 L1249.4,2408.5 L1251.4,2409.1 L1253.4,2409.7 L1255.4,2410.2 L1257.4,2410.8 L1259.4,2411.4 L1261.4,2412.0 L1263.4,2412.6 L1265.4,2413.2 L1267.4,2413.7 L1269.4,2414.3 L1271.4,2414.9 L1273.4,2415.4 L1275.4,2416.0 L1277.4,2416.5 L1279.4,2417.1 L1281.4,2417.6 L1283.4,2418.2 L1285.4,2418.7 L1287.4,2419.3 L1289.4,2419.8 L1291.4,2420.3 L1293.4,2420.9 L1295.4,2421.4 L1297.4,2421.9 L1299.4,2422.4 L1301.4,2423.0 L1303.4,2423.5 L1305.4,2424.0 L1307.4,2424.5 L1309.4,2425.0 L1311.4,2425.5 L1313.4,2426.0 L1315.4,2426.5 L1317.4,2427.0 L1319.4,2427.5 L1321.4,2427.9 L1323.4,2428.4 L1325.4,2428.9 L1327.4,2429.4 L1329.4,2429.8 L1331.4,2430.3 L1333.4,2430.8 L1335.4,2431.2 L1337.4,2431.7 L1339.4,2432.2 L1341.4,2432.6 L1343.4,2433.1 L1345.4,2433.5 L1347.4,2433.9 L1349.4,2434.4 L1351.4,2434.8 L1353.4,2435.2 L1355.4,2435.7 L1357.4,2436.1 L1359.4,2436.5 L1361.4,2436.9 L1363.4,2437.4 L1365.4,2437.8 L1367.4,2438.2 L1369.4,2438.6 L1371.4,2439.0 L1373.4,2439.4 L1375.4,2439.8 L1377.4,2440.2 L1379.4,2440.6 L1381.4,2440.9 L1383.4,2441.3 L1385.4,2441.7 L1387.4,2442.1 L1389.4,2442.4 L1391.4,2442.8 L1393.4,2443.2 L1395.4,2443.5 L1397.4,2443.9 L1399.4,2444.3 L1401.4,2444.6 L1403.4,2445.0 L1405.4,2445.3 L1407.4,2445.6 L1409.4,2446.0 L1411.4,2446.3 L1413.4,2446.6 L1415.4,2447.0 L1417.4,2447.3 L1419.4,2447.6 L1421.4,2447.9 L1423.4,2448.3 L1425.4,2448.6 L1427.4,2448.9 L1429.4,2449.2 L1431.4,2449.5 L1433.4,2449.8 L1435.4,2450.1 L1437.4,2450.4 L1439.4,2450.7 L1441.4,2450.9 L1443.4,2451.2 L1445.4,2451.5 L1447.4,2451.8 L1449.4,2452.0 L1451.4,2452.3 L1453.4,2452.6 L1455.4,2452.8 L1457.4,2453.1 L1459.4,2453.4 L1461.4,2453.6 L1463.4,2453.8 L1465.4,2454.1 L1467.4,2454.3 L1469.4,2454.6 L1471.4,2454.8 L1473.4,2455.0 L1475.4,2455.3 L1477.4,2455.5 L1479.4,2455.7 L1481.4,2455.9 L1483.4,2456.1 L1485.4,2456.3 L1487.4,2456.6 L1489.4,2456.8 L1491.4,2457.0 L1493.4,2457.1 L1495.4,2457.3 L1497.4,2457.5 L1499.4,2457.7 L1501.4,2457.9 L1503.4,2458.1 L1505.4,2458.3 L1507.4,2458.4 L1509.4,2458.6 L1511.4,2458.8 L1513.4,2458.9 L1515.4,2459.1 L1517.4,2459.2 L1519.4,2459.4 L1521.4,2459.5 L1523.4,2459.7 L1525.4,2459.8 L1527.4,2460.0 L1529.4,2460.1 L1531.4,2460.2 L1533.4,2460.3 L1535.4,2460.5 L1537.4,2460.6 L1539.4,2460.7 L1541.4,2460.8 L1543.4,2460.9 L1545.4,2461.0 L1547.4,2461.1 L1549.4,2461.2 L1551.4,2461.3 L1553.4,2461.4 L1555.4,2461.5 L1557.4,2461.6 L1559.4,2461.7 L1561.4,2461.7 L1563.4,2461.8 L1565.4,2461.9 L1567.4,2462.0 L1569.4,2462.0 L1571.4,2462.1 L1573.4,2462.1 L1575.4,2462.2 L1577.4,2462.2 L1579.4,2462.3 L1581.4,2462.3 L1583.4,2462.4 L1585.4,2462.4 L1587.4,2462.4 L1589.4,2462.5 L1591.4,2462.5 L1593.4,2462.5 L1595.4,2462.5 L1597.4,2462.5 L1599.4,2462.5 L1601.4,2462.5 L1603.4,2462.5 L1605.4,2462.5 L1607.4,2462.5 L1609.4,2462.5 L1611.4,2462.5 L1613.4,2462.5 L1615.4,2462.5 L1617.4,2462.5 L1619.4,2462.4 L1621.4,2462.4 L1623.4,2462.4 L1625.4,2462.3 L1627.4,2462.3 L1629.4,2462.2 L1631.4,2462.2 L1633.4,2462.1 L1635.4,2462.1 L1637.4,2462.0 L1639.4,2462.0 L1641.4,2461.9 L1643.4,2461.8 L1645.4,2461.8 L1647.4,2461.7 L1649.4,2461.6 L1651.4,2461.5 L1653.4,2461.4 L1655.4,2461.3 L1657.4,2461.2 L1659.4,2461.1 L1661.4,2461.0 L1663.4,2460.9 L1665.4,2460.8 L1667.4,2460.7 L1669.4,2460.6 L1671.4,2460.5 L1673.4,2460.3 L1675.4,2460.2 L1677.4,2460.1 L1679.4,2459.9 L1681.4,2459.8 L1683.4,2459.7 L1685.4,2459.5 L1687.4,2459.4 L1689.4,2459.2 L1691.4,2459.0 L1693.4,2458.9 L1695.4,2458.7 L1697.4,2458.5 L1699.4,2458.4 L1700.7,2458.3" fill="none" stroke="#9a3c12" stroke-width="5" stroke-dasharray="23 8.5 10 8.5" stroke-dashoffset="0"/>
<line x1="601" y1="1757" x2="606" y2="1765" stroke="#f01414" stroke-width="5.5"/>
<line x1="615.3" y1="1788" x2="630.6" y2="1813.5" stroke="#f01414" stroke-width="5.5"/>
<line x1="639.5" y1="1835" x2="653.6" y2="1860.7" stroke="#f01414" stroke-width="5.5"/>
<line x1="661" y1="1883.7" x2="676.5" y2="1909.2" stroke="#f01414" stroke-width="5.5"/>
<line x1="685.5" y1="1930.9" x2="700.8" y2="1956.4" stroke="#f01414" stroke-width="5.5"/>
<line x1="708.4" y1="1978" x2="725" y2="2003.6" stroke="#f01414" stroke-width="5.5"/>
<line x1="733.9" y1="2025.3" x2="750.5" y2="2050.8" stroke="#f01414" stroke-width="5.5"/>
<line x1="760.7" y1="2071.2" x2="778.6" y2="2095.4" stroke="#f01414" stroke-width="5.5"/>
<line x1="789.7" y1="2113.6" x2="809.8" y2="2139.4" stroke="#f01414" stroke-width="5.5"/>
<line x1="821.2" y1="2156.7" x2="842.8" y2="2179.6" stroke="#f01414" stroke-width="5.5"/>
<line x1="857.1" y1="2196.8" x2="878.6" y2="2219.8" stroke="#f01414" stroke-width="5.5"/>
<line x1="894.4" y1="2237" x2="917.4" y2="2257.1" stroke="#f01414" stroke-width="5.5"/>
<line x1="933.2" y1="2272.9" x2="957.6" y2="2293" stroke="#f01414" stroke-width="5.5"/>
<line x1="971.9" y1="2308.8" x2="993.5" y2="2328.9" stroke="#f01414" stroke-width="5.5"/>
<line x1="1012.6" y1="2342" x2="1036.1" y2="2363" stroke="#f01414" stroke-width="5.5"/>
<line x1="1053.3" y1="2376.5" x2="1077.2" y2="2397.5" stroke="#f01414" stroke-width="5.5"/>
<line x1="1095" y1="2409.5" x2="1119.3" y2="2429.6" stroke="#f01414" stroke-width="5.5"/>
<circle cx="730.1" cy="1938.5" r="16" fill="none" stroke="#c04848" stroke-width="2.2"/>
<circle cx="834.2" cy="1974.7" r="16" fill="none" stroke="#c04848" stroke-width="2.2"/>
<circle cx="878.1" cy="2128.8" r="16" fill="none" stroke="#c04848" stroke-width="2.2"/>
<circle cx="1038" cy="2194.3" r="16" fill="none" stroke="#c04848" stroke-width="2.2"/>
<circle cx="1157.6" cy="2087.1" r="16" fill="none" stroke="#c04848" stroke-width="2.2"/>
<circle cx="1099.3" cy="2334.3" r="16" fill="none" stroke="#c04848" stroke-width="2.2"/>
<circle cx="1510.2" cy="2349.3" r="16" fill="none" stroke="#c04848" stroke-width="2.2"/>
<circle cx="1707.3" cy="2463.5" r="16" fill="none" stroke="#c04848" stroke-width="2.2"/>
<rect x="759.4" y="2071.9" width="26" height="26" fill="none" stroke="#5ccf80" stroke-width="2.2"/>
<rect x="918.7" y="2255.6" width="26" height="26" fill="none" stroke="#5ccf80" stroke-width="2.2"/>
<path d="M337.8,1644.5 L355.8,1675.5 L319.8,1675.5 Z" fill="none" stroke="#2e2e90" stroke-width="2.1" stroke-linejoin="miter"/>
<path d="M358.2,1686.0 L376.2,1717.0 L340.2,1717.0 Z" fill="none" stroke="#2e2e90" stroke-width="2.1" stroke-linejoin="miter"/>
<path d="M354.8,1712.8 L372.8,1743.8 L336.8,1743.8 Z" fill="none" stroke="#2e2e90" stroke-width="2.1" stroke-linejoin="miter"/>
<path d="M386.7,1712.2 L404.7,1743.2 L368.7,1743.2 Z" fill="none" stroke="#2e2e90" stroke-width="2.1" stroke-linejoin="miter"/>
<path d="M421.9,1742.1 L439.9,1773.1 L403.9,1773.1 Z" fill="none" stroke="#2e2e90" stroke-width="2.1" stroke-linejoin="miter"/>
<path d="M379.1,1759.4 L397.1,1790.4 L361.1,1790.4 Z" fill="none" stroke="#2e2e90" stroke-width="2.1" stroke-linejoin="miter"/>
<path d="M357.4,1777.2 L375.4,1808.2 L339.4,1808.2 Z" fill="none" stroke="#2e2e90" stroke-width="2.1" stroke-linejoin="miter"/>
<path d="M471.4,1793.1 L489.4,1824.1 L453.4,1824.1 Z" fill="none" stroke="#2e2e90" stroke-width="2.1" stroke-linejoin="miter"/>
<path d="M413.5,1800.2 L431.5,1831.2 L395.5,1831.2 Z" fill="none" stroke="#2e2e90" stroke-width="2.1" stroke-linejoin="miter"/>
<path d="M388.0,1809.1 L406.0,1840.1 L370.0,1840.1 Z" fill="none" stroke="#2e2e90" stroke-width="2.1" stroke-linejoin="miter"/>
<path d="M546.2,1836.9 L564.2,1867.9 L528.2,1867.9 Z" fill="none" stroke="#2e2e90" stroke-width="2.1" stroke-linejoin="miter"/>
<path d="M449.2,1841.4 L467.2,1872.4 L431.2,1872.4 Z" fill="none" stroke="#2e2e90" stroke-width="2.1" stroke-linejoin="miter"/>
<path d="M586.2,1864.6 L604.2,1895.6 L568.2,1895.6 Z" fill="none" stroke="#2e2e90" stroke-width="2.1" stroke-linejoin="miter"/>
<path d="M421.9,1867.8 L439.9,1898.8 L403.9,1898.8 Z" fill="none" stroke="#2e2e90" stroke-width="2.1" stroke-linejoin="miter"/>
<path d="M517.3,1902.5 L535.3,1933.5 L499.3,1933.5 Z" fill="none" stroke="#2e2e90" stroke-width="2.1" stroke-linejoin="miter"/>
<path d="M473.0,1924.5 L491.0,1955.5 L455.0,1955.5 Z" fill="none" stroke="#2e2e90" stroke-width="2.1" stroke-linejoin="miter"/>
<path d="M618.9,1985.0 L636.9,2016.0 L600.9,2016.0 Z" fill="none" stroke="#2e2e90" stroke-width="2.1" stroke-linejoin="miter"/>
<path d="M656.2,2096.3 L674.2,2127.3 L638.2,2127.3 Z" fill="none" stroke="#2e2e90" stroke-width="2.1" stroke-linejoin="miter"/>
<path d="M838.5,2190.7 L856.5,2221.7 L820.5,2221.7 Z" fill="none" stroke="#2e2e90" stroke-width="2.1" stroke-linejoin="miter"/>
</svg>
</body></html>
